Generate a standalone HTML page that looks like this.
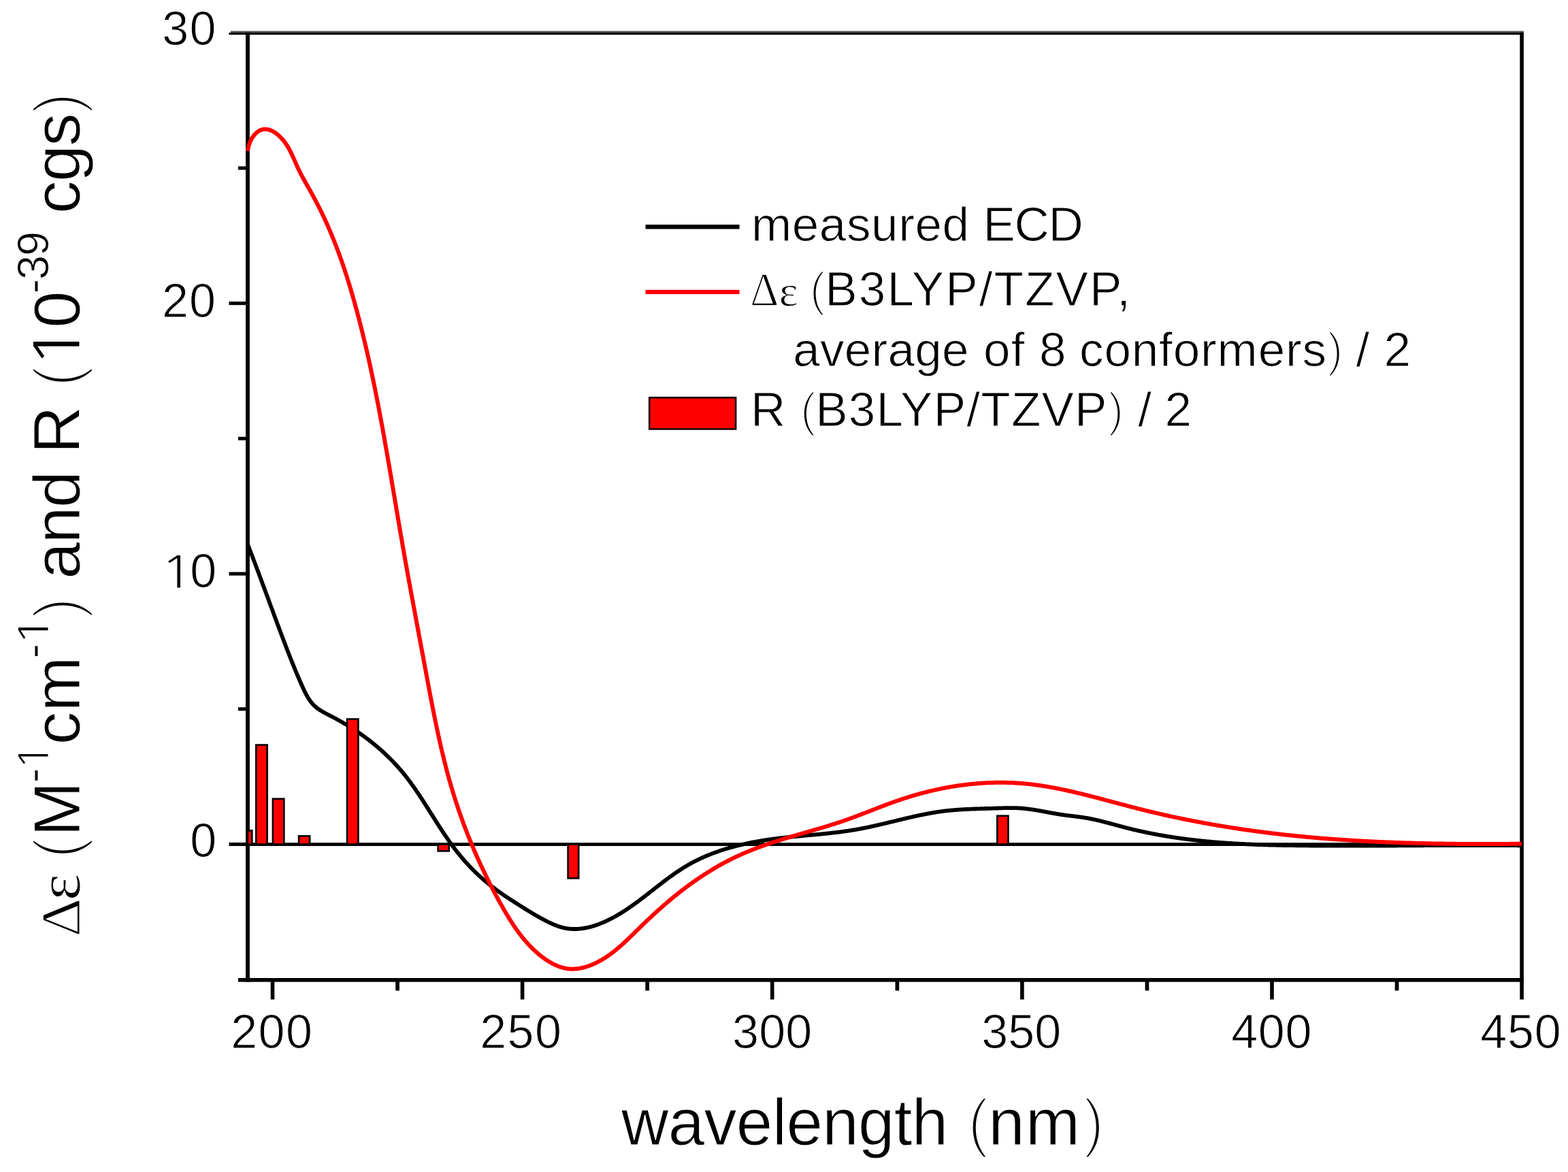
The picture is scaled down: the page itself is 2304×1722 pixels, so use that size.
<!DOCTYPE html>
<html><head><meta charset="utf-8"><title>ECD spectrum: measured vs. calculated</title>
<style>html,body{margin:0;padding:0;background:#fff;overflow:hidden}svg{display:block}</style>
</head><body>
<svg xmlns="http://www.w3.org/2000/svg" width="2304" height="1722" viewBox="0 0 2304 1722">
<rect x="0" y="0" width="2304" height="1722" fill="#fff"/>
<g fill="#000">
<rect x="339" y="45.5" width="1899.9" height="2.4" fill="#555"/>
<rect x="336.5" y="47.8" width="1902.4" height="3.2"/>
<rect x="361" y="47.8" width="5.9" height="1395"/>
<rect x="2233.3" y="47.8" width="5.6" height="1395"/>
<rect x="350" y="1437" width="1888.9" height="5.7"/>
<rect x="336.5" y="443.1" width="26" height="5.1"/>
<rect x="336.5" y="840.5" width="26" height="5.1"/>
<rect x="336.5" y="1237.9" width="26" height="5.1"/>
<rect x="350" y="244.4" width="12" height="5.1"/>
<rect x="350" y="641.8" width="12" height="5.1"/>
<rect x="350" y="1039.2" width="12" height="5.1"/>
<rect x="397.7" y="1440" width="5.6" height="28.5"/>
<rect x="764.8" y="1440" width="5.6" height="28.5"/>
<rect x="1131.9" y="1440" width="5.6" height="28.5"/>
<rect x="1499.1" y="1440" width="5.6" height="28.5"/>
<rect x="1866.2" y="1440" width="5.6" height="28.5"/>
<rect x="2233.3" y="1440" width="5.6" height="28.5"/>
<rect x="581.2" y="1440" width="5.7" height="15.5"/>
<rect x="948.3" y="1440" width="5.7" height="15.5"/>
<rect x="1315.5" y="1440" width="5.7" height="15.5"/>
<rect x="1682.6" y="1440" width="5.7" height="15.5"/>
<rect x="2049.7" y="1440" width="5.7" height="15.5"/>
</g>
<rect x="364" y="1238.2" width="1872" height="4.8" fill="#000"/>
<path d="M364.0,800.0 L364.3,800.8 364.7,801.7 365.0,802.5 365.3,803.3 365.6,804.1 365.9,805.0 366.3,805.8 366.6,806.6 366.9,807.5 367.2,808.3 367.5,809.1 367.9,810.0 368.2,810.8 368.5,811.6 368.8,812.4 369.1,813.3 369.4,814.1 369.8,814.9 370.1,815.8 370.4,816.6 370.7,817.4 371.0,818.3 371.3,819.1 371.7,819.9 372.0,820.7 372.3,821.6 372.6,822.4 372.9,823.2 373.2,824.1 373.5,824.9 373.9,825.7 374.2,826.5 374.5,827.4 374.8,828.2 375.1,829.0 375.4,829.8 375.7,830.7 376.0,831.5 376.4,832.3 376.7,833.2 377.0,834.0 377.3,834.8 377.6,835.6 377.9,836.5 378.2,837.3 378.5,838.1 378.8,838.9 379.1,839.8 379.5,840.6 379.8,841.4 380.1,842.3 380.4,843.1 380.7,843.9 381.0,844.7 381.3,845.6 381.6,846.4 381.9,847.2 382.2,848.0 382.5,848.9 382.8,849.7 383.2,850.5 383.5,851.3 383.8,852.2 384.1,853.0 384.4,853.8 384.7,854.6 385.0,855.5 385.3,856.3 385.6,857.1 385.9,858.0 386.2,858.8 386.5,859.6 386.8,860.4 387.1,861.3 387.4,862.1 387.8,862.9 388.1,863.7 388.4,864.6 388.7,865.4 389.0,866.2 389.3,867.0 389.6,867.9 389.9,868.7 390.2,869.5 390.5,870.3 390.8,871.2 391.1,872.0 391.4,872.8 391.7,873.6 392.0,874.5 392.3,875.3 392.6,876.1 392.9,876.9 393.3,877.8 393.6,878.6 393.9,879.4 394.2,880.2 394.5,881.1 394.8,881.9 395.1,882.7 395.4,883.6 395.7,884.4 396.0,885.2 396.3,886.0 396.6,886.9 396.9,887.7 397.2,888.5 397.5,889.3 397.8,890.2 398.1,891.0 398.4,891.8 398.7,892.6 399.0,893.5 399.4,894.3 399.7,895.1 400.0,895.9 400.3,896.8 400.6,897.6 400.9,898.4 401.2,899.3 401.5,900.1 401.8,900.9 402.1,901.7 402.4,902.6 402.7,903.4 403.0,904.2 403.3,905.0 403.6,905.9 403.9,906.7 404.3,907.5 404.6,908.4 404.9,909.2 405.2,910.0 405.5,910.8 405.8,911.7 406.1,912.5 406.4,913.3 406.7,914.1 407.0,915.0 407.3,915.8 407.6,916.6 407.9,917.5 408.3,918.3 408.6,919.1 408.9,919.9 409.2,920.8 409.5,921.6 409.8,922.4 410.1,923.3 410.4,924.1 410.7,924.9 411.0,925.7 411.4,926.6 411.7,927.4 412.0,928.2 412.3,929.1 412.6,929.9 412.9,930.7 413.2,931.6 413.5,932.4 413.8,933.2 414.2,934.0 414.5,934.9 414.8,935.7 415.1,936.5 415.4,937.4 415.7,938.2 416.0,939.0 416.4,939.9 416.7,940.7 417.0,941.5 417.3,942.4 417.6,943.2 417.9,944.0 418.3,944.8 418.6,945.7 418.9,946.5 419.2,947.3 419.5,948.2 419.8,949.0 420.2,949.8 420.5,950.7 420.8,951.5 421.1,952.3 421.4,953.2 421.8,954.0 422.1,954.8 422.4,955.7 422.7,956.5 423.0,957.3 423.4,958.2 423.7,959.0 424.0,959.8 424.3,960.6 424.7,961.5 425.0,962.3 425.3,963.1 425.6,964.0 426.0,964.8 426.3,965.6 426.6,966.5 426.9,967.3 427.3,968.1 427.6,969.0 427.9,969.8 428.3,970.6 428.6,971.4 428.9,972.3 429.3,973.1 429.6,973.9 429.9,974.8 430.3,975.6 430.6,976.4 430.9,977.3 431.3,978.1 431.6,978.9 431.9,979.7 432.3,980.6 432.6,981.4 433.0,982.2 433.3,983.0 433.6,983.9 434.0,984.7 434.3,985.5 434.7,986.4 435.0,987.2 435.4,988.0 435.7,988.8 436.0,989.7 436.4,990.5 436.7,991.3 437.1,992.1 437.4,992.9 437.8,993.8 438.1,994.6 438.5,995.4 438.8,996.2 439.2,997.1 439.6,997.9 439.9,998.7 440.3,999.5 440.6,1000.3 441.0,1001.2 441.3,1002.0 441.7,1002.8 442.1,1003.6 442.4,1004.4 442.8,1005.3 443.1,1006.1 443.5,1006.9 443.9,1007.7 444.2,1008.5 444.6,1009.3 445.0,1010.1 445.4,1011.0 445.7,1011.8 446.1,1012.6 446.5,1013.4 446.9,1014.2 447.2,1015.0 447.6,1015.8 448.0,1016.6 448.4,1017.4 448.8,1018.2 449.2,1018.9 449.6,1019.7 450.0,1020.5 450.4,1021.3 450.9,1022.0 451.3,1022.8 451.7,1023.5 452.2,1024.3 452.6,1025.0 453.1,1025.8 453.5,1026.5 454.0,1027.2 454.5,1027.9 454.9,1028.6 455.4,1029.3 455.9,1030.0 456.4,1030.7 456.9,1031.4 457.5,1032.0 458.0,1032.7 458.5,1033.3 459.1,1034.0 459.6,1034.6 460.2,1035.2 460.8,1035.8 461.4,1036.4 462.0,1037.0 462.6,1037.6 463.2,1038.1 463.8,1038.7 464.5,1039.2 465.1,1039.7 465.8,1040.3 466.5,1040.8 467.1,1041.3 467.8,1041.8 468.5,1042.2 469.2,1042.7 469.9,1043.2 470.7,1043.6 471.4,1044.1 472.1,1044.5 472.8,1045.0 473.6,1045.4 474.3,1045.9 475.1,1046.3 475.8,1046.7 476.6,1047.1 477.4,1047.5 478.1,1048.0 478.9,1048.4 479.7,1048.8 480.5,1049.2 481.2,1049.6 482.0,1050.0 482.8,1050.4 483.6,1050.8 484.4,1051.2 485.1,1051.6 485.9,1052.0 486.7,1052.4 487.5,1052.8 488.3,1053.2 489.1,1053.6 489.8,1054.0 490.6,1054.4 491.4,1054.9 492.2,1055.3 493.0,1055.7 493.7,1056.1 494.5,1056.5 495.3,1057.0 496.1,1057.4 496.8,1057.8 497.6,1058.2 498.4,1058.7 499.1,1059.1 499.9,1059.5 500.7,1060.0 501.4,1060.4 502.2,1060.8 503.0,1061.3 503.7,1061.7 504.5,1062.2 505.3,1062.6 506.0,1063.1 506.8,1063.5 507.5,1064.0 508.3,1064.4 509.1,1064.9 509.8,1065.3 510.6,1065.8 511.3,1066.2 512.1,1066.7 512.8,1067.2 513.6,1067.6 514.3,1068.1 515.1,1068.6 515.8,1069.0 516.5,1069.5 517.3,1070.0 518.0,1070.5 518.8,1070.9 519.5,1071.4 520.3,1071.9 521.0,1072.4 521.7,1072.9 522.5,1073.4 523.2,1073.9 523.9,1074.3 524.7,1074.8 525.4,1075.3 526.1,1075.8 526.8,1076.3 527.6,1076.8 528.3,1077.3 529.0,1077.8 529.7,1078.3 530.5,1078.8 531.2,1079.4 531.9,1079.9 532.6,1080.4 533.3,1080.9 534.0,1081.4 534.8,1081.9 535.5,1082.4 536.2,1083.0 536.9,1083.5 537.6,1084.0 538.3,1084.5 539.0,1085.1 539.7,1085.6 540.4,1086.1 541.1,1086.7 541.8,1087.2 542.5,1087.7 543.2,1088.3 543.9,1088.8 544.6,1089.4 545.3,1089.9 546.0,1090.4 546.7,1091.0 547.3,1091.5 548.0,1092.1 548.7,1092.6 549.4,1093.2 550.1,1093.8 550.8,1094.3 551.4,1094.9 552.1,1095.4 552.8,1096.0 553.5,1096.6 554.1,1097.1 554.8,1097.7 555.5,1098.3 556.1,1098.9 556.8,1099.4 557.5,1100.0 558.1,1100.6 558.8,1101.2 559.5,1101.7 560.1,1102.3 560.8,1102.9 561.4,1103.5 562.1,1104.1 562.7,1104.7 563.4,1105.3 564.0,1105.9 564.7,1106.5 565.3,1107.1 565.9,1107.7 566.6,1108.3 567.2,1108.9 567.9,1109.5 568.5,1110.1 569.1,1110.7 569.8,1111.3 570.4,1111.9 571.0,1112.5 571.6,1113.1 572.3,1113.8 572.9,1114.4 573.5,1115.0 574.1,1115.6 574.7,1116.2 575.4,1116.9 576.0,1117.5 576.6,1118.1 577.2,1118.8 577.8,1119.4 578.4,1120.0 579.0,1120.7 579.6,1121.3 580.2,1121.9 580.8,1122.6 581.4,1123.2 582.0,1123.9 582.6,1124.5 583.2,1125.2 583.8,1125.8 584.4,1126.5 585.0,1127.1 585.5,1127.8 586.1,1128.4 586.7,1129.1 587.3,1129.8 587.8,1130.4 588.4,1131.1 589.0,1131.8 589.6,1132.4 590.1,1133.1 590.7,1133.8 591.3,1134.4 591.8,1135.1 592.4,1135.8 592.9,1136.5 593.5,1137.2 594.0,1137.8 594.6,1138.5 595.1,1139.2 595.7,1139.9 596.2,1140.6 596.8,1141.3 597.3,1142.0 597.9,1142.7 598.4,1143.4 598.9,1144.1 599.5,1144.8 600.0,1145.5 600.5,1146.2 601.1,1146.9 601.6,1147.6 602.1,1148.3 602.6,1149.0 603.2,1149.7 603.7,1150.4 604.2,1151.1 604.7,1151.8 605.2,1152.6 605.7,1153.3 606.3,1154.0 606.8,1154.7 607.3,1155.4 607.8,1156.1 608.3,1156.9 608.8,1157.6 609.3,1158.3 609.8,1159.0 610.3,1159.8 610.8,1160.5 611.3,1161.2 611.8,1162.0 612.3,1162.7 612.8,1163.4 613.3,1164.2 613.8,1164.9 614.3,1165.6 614.8,1166.4 615.3,1167.1 615.8,1167.8 616.3,1168.6 616.8,1169.3 617.2,1170.0 617.7,1170.8 618.2,1171.5 618.7,1172.3 619.2,1173.0 619.7,1173.8 620.2,1174.5 620.6,1175.2 621.1,1176.0 621.6,1176.7 622.1,1177.5 622.6,1178.2 623.0,1179.0 623.5,1179.7 624.0,1180.5 624.5,1181.2 625.0,1182.0 625.4,1182.7 625.9,1183.5 626.4,1184.2 626.9,1185.0 627.3,1185.7 627.8,1186.5 628.3,1187.2 628.8,1188.0 629.2,1188.7 629.7,1189.5 630.2,1190.2 630.7,1191.0 631.1,1191.7 631.6,1192.5 632.1,1193.2 632.6,1194.0 633.0,1194.7 633.5,1195.5 634.0,1196.3 634.5,1197.0 634.9,1197.8 635.4,1198.5 635.9,1199.3 636.4,1200.0 636.8,1200.8 637.3,1201.5 637.8,1202.3 638.3,1203.0 638.7,1203.8 639.2,1204.5 639.7,1205.3 640.2,1206.0 640.6,1206.8 641.1,1207.6 641.6,1208.3 642.1,1209.1 642.6,1209.8 643.0,1210.6 643.5,1211.3 644.0,1212.1 644.5,1212.8 645.0,1213.6 645.4,1214.3 645.9,1215.0 646.4,1215.8 646.9,1216.5 647.4,1217.3 647.9,1218.0 648.4,1218.8 648.8,1219.5 649.3,1220.3 649.8,1221.0 650.3,1221.8 650.8,1222.5 651.3,1223.2 651.8,1224.0 652.3,1224.7 652.8,1225.5 653.3,1226.2 653.8,1226.9 654.3,1227.7 654.8,1228.4 655.3,1229.1 655.8,1229.9 656.3,1230.6 656.8,1231.3 657.3,1232.1 657.8,1232.8 658.3,1233.5 658.8,1234.3 659.3,1235.0 659.8,1235.7 660.3,1236.4 660.9,1237.2 661.4,1237.9 661.9,1238.6 662.4,1239.3 662.9,1240.0 663.4,1240.8 664.0,1241.5 664.5,1242.2 665.0,1242.9 665.6,1243.6 666.1,1244.3 666.6,1245.0 667.1,1245.7 667.7,1246.5 668.2,1247.2 668.8,1247.9 669.3,1248.6 669.8,1249.3 670.4,1250.0 670.9,1250.7 671.5,1251.4 672.0,1252.1 672.6,1252.8 673.1,1253.4 673.7,1254.1 674.3,1254.8 674.8,1255.5 675.4,1256.2 675.9,1256.9 676.5,1257.6 677.1,1258.3 677.6,1258.9 678.2,1259.6 678.8,1260.3 679.4,1261.0 679.9,1261.6 680.5,1262.3 681.1,1263.0 681.7,1263.6 682.2,1264.3 682.8,1265.0 683.4,1265.6 684.0,1266.3 684.6,1267.0 685.2,1267.6 685.8,1268.3 686.4,1268.9 687.0,1269.6 687.6,1270.2 688.2,1270.9 688.8,1271.5 689.4,1272.2 690.0,1272.8 690.6,1273.4 691.2,1274.1 691.8,1274.7 692.4,1275.4 693.0,1276.0 693.6,1276.6 694.3,1277.2 694.9,1277.9 695.5,1278.5 696.1,1279.1 696.8,1279.7 697.4,1280.4 698.0,1281.0 698.6,1281.6 699.3,1282.2 699.9,1282.8 700.5,1283.4 701.2,1284.0 701.8,1284.6 702.5,1285.2 703.1,1285.8 703.7,1286.4 704.4,1287.0 705.0,1287.6 705.7,1288.2 706.3,1288.8 707.0,1289.4 707.7,1290.0 708.3,1290.6 709.0,1291.1 709.6,1291.7 710.3,1292.3 711.0,1292.9 711.6,1293.4 712.3,1294.0 713.0,1294.6 713.6,1295.1 714.3,1295.7 715.0,1296.2 715.6,1296.8 716.3,1297.4 717.0,1297.9 717.7,1298.5 718.4,1299.0 719.0,1299.5 719.7,1300.1 720.4,1300.6 721.1,1301.2 721.8,1301.7 722.5,1302.2 723.2,1302.8 723.9,1303.3 724.6,1303.8 725.3,1304.4 726.0,1304.9 726.7,1305.4 727.4,1305.9 728.1,1306.5 728.8,1307.0 729.5,1307.5 730.2,1308.0 730.9,1308.5 731.6,1309.0 732.3,1309.6 733.0,1310.1 733.8,1310.6 734.5,1311.1 735.2,1311.6 735.9,1312.1 736.6,1312.6 737.3,1313.1 738.1,1313.6 738.8,1314.1 739.5,1314.6 740.2,1315.1 741.0,1315.6 741.7,1316.1 742.4,1316.6 743.1,1317.1 743.9,1317.5 744.6,1318.0 745.3,1318.5 746.1,1319.0 746.8,1319.5 747.5,1320.0 748.3,1320.5 749.0,1321.0 749.7,1321.4 750.5,1321.9 751.2,1322.4 752.0,1322.9 752.7,1323.4 753.4,1323.8 754.2,1324.3 754.9,1324.8 755.7,1325.3 756.4,1325.8 757.2,1326.2 757.9,1326.7 758.7,1327.2 759.4,1327.7 760.2,1328.1 760.9,1328.6 761.7,1329.1 762.4,1329.6 763.2,1330.0 763.9,1330.5 764.7,1331.0 765.4,1331.4 766.2,1331.9 766.9,1332.4 767.7,1332.9 768.4,1333.3 769.2,1333.8 769.9,1334.3 770.7,1334.8 771.4,1335.2 772.2,1335.7 773.0,1336.2 773.7,1336.6 774.5,1337.1 775.2,1337.6 776.0,1338.0 776.8,1338.5 777.5,1339.0 778.3,1339.4 779.1,1339.9 779.8,1340.4 780.6,1340.8 781.4,1341.3 782.1,1341.7 782.9,1342.2 783.7,1342.7 784.4,1343.1 785.2,1343.6 786.0,1344.0 786.8,1344.5 787.5,1344.9 788.3,1345.4 789.1,1345.8 789.9,1346.3 790.7,1346.7 791.4,1347.2 792.2,1347.6 793.0,1348.0 793.8,1348.5 794.6,1348.9 795.4,1349.3 796.2,1349.8 797.0,1350.2 797.7,1350.6 798.5,1351.1 799.3,1351.5 800.1,1351.9 800.9,1352.3 801.7,1352.7 802.5,1353.1 803.3,1353.6 804.1,1354.0 804.9,1354.4 805.7,1354.8 806.6,1355.2 807.4,1355.5 808.2,1355.9 809.0,1356.3 809.8,1356.7 810.6,1357.1 811.4,1357.4 812.3,1357.8 813.1,1358.1 813.9,1358.5 814.7,1358.8 815.5,1359.2 816.4,1359.5 817.2,1359.8 818.0,1360.1 818.8,1360.4 819.7,1360.7 820.5,1361.0 821.3,1361.3 822.2,1361.5 823.0,1361.8 823.8,1362.1 824.7,1362.3 825.5,1362.5 826.3,1362.8 827.2,1363.0 828.0,1363.2 828.9,1363.4 829.7,1363.6 830.6,1363.7 831.4,1363.9 832.2,1364.0 833.1,1364.2 833.9,1364.3 834.8,1364.4 835.6,1364.5 836.5,1364.6 837.3,1364.7 838.2,1364.8 839.0,1364.8 839.9,1364.9 840.7,1364.9 841.6,1365.0 842.4,1365.0 843.3,1365.0 844.2,1365.0 845.0,1365.0 845.9,1365.0 846.7,1365.0 847.6,1364.9 848.4,1364.9 849.3,1364.8 850.1,1364.8 851.0,1364.7 851.9,1364.6 852.7,1364.6 853.6,1364.5 854.4,1364.4 855.3,1364.3 856.1,1364.1 857.0,1364.0 857.8,1363.9 858.7,1363.7 859.5,1363.6 860.4,1363.4 861.2,1363.3 862.1,1363.1 863.0,1362.9 863.8,1362.7 864.7,1362.5 865.5,1362.3 866.4,1362.1 867.2,1361.9 868.0,1361.7 868.9,1361.4 869.7,1361.2 870.6,1361.0 871.4,1360.7 872.3,1360.4 873.1,1360.2 873.9,1359.9 874.8,1359.6 875.6,1359.4 876.5,1359.1 877.3,1358.8 878.1,1358.5 879.0,1358.2 879.8,1357.9 880.6,1357.6 881.4,1357.2 882.3,1356.9 883.1,1356.6 883.9,1356.3 884.7,1355.9 885.6,1355.6 886.4,1355.2 887.2,1354.9 888.0,1354.5 888.8,1354.2 889.6,1353.8 890.4,1353.4 891.2,1353.1 892.0,1352.7 892.8,1352.3 893.6,1351.9 894.4,1351.5 895.2,1351.1 896.0,1350.7 896.8,1350.3 897.6,1349.9 898.4,1349.5 899.2,1349.1 900.0,1348.7 900.8,1348.3 901.5,1347.9 902.3,1347.4 903.1,1347.0 903.9,1346.6 904.6,1346.2 905.4,1345.7 906.2,1345.3 906.9,1344.8 907.7,1344.4 908.5,1343.9 909.2,1343.5 910.0,1343.0 910.7,1342.6 911.5,1342.1 912.3,1341.7 913.0,1341.2 913.8,1340.7 914.5,1340.3 915.3,1339.8 916.0,1339.3 916.8,1338.8 917.5,1338.4 918.3,1337.9 919.0,1337.4 919.7,1336.9 920.5,1336.4 921.2,1335.9 922.0,1335.4 922.7,1334.9 923.4,1334.4 924.2,1333.9 924.9,1333.4 925.6,1332.9 926.3,1332.4 927.1,1331.9 927.8,1331.4 928.5,1330.9 929.3,1330.4 930.0,1329.9 930.7,1329.3 931.4,1328.8 932.1,1328.3 932.9,1327.8 933.6,1327.3 934.3,1326.7 935.0,1326.2 935.7,1325.7 936.5,1325.2 937.2,1324.6 937.9,1324.1 938.6,1323.6 939.3,1323.0 940.0,1322.5 940.7,1322.0 941.5,1321.4 942.2,1320.9 942.9,1320.3 943.6,1319.8 944.3,1319.3 945.0,1318.7 945.7,1318.2 946.4,1317.6 947.1,1317.1 947.8,1316.6 948.5,1316.0 949.2,1315.5 949.9,1314.9 950.7,1314.4 951.4,1313.8 952.1,1313.3 952.8,1312.7 953.5,1312.2 954.2,1311.6 954.9,1311.1 955.6,1310.5 956.3,1310.0 957.0,1309.4 957.7,1308.9 958.4,1308.3 959.1,1307.8 959.8,1307.2 960.5,1306.7 961.2,1306.1 961.9,1305.6 962.6,1305.0 963.3,1304.5 964.0,1303.9 964.7,1303.4 965.4,1302.8 966.1,1302.3 966.8,1301.8 967.5,1301.2 968.2,1300.7 968.9,1300.1 969.6,1299.6 970.4,1299.0 971.1,1298.5 971.8,1297.9 972.5,1297.4 973.2,1296.9 973.9,1296.3 974.6,1295.8 975.3,1295.2 976.0,1294.7 976.7,1294.2 977.4,1293.6 978.1,1293.1 978.8,1292.6 979.6,1292.0 980.3,1291.5 981.0,1291.0 981.7,1290.5 982.4,1289.9 983.1,1289.4 983.8,1288.9 984.5,1288.4 985.3,1287.8 986.0,1287.3 986.7,1286.8 987.4,1286.3 988.1,1285.8 988.9,1285.3 989.6,1284.8 990.3,1284.2 991.0,1283.7 991.8,1283.2 992.5,1282.7 993.2,1282.2 993.9,1281.7 994.7,1281.2 995.4,1280.7 996.1,1280.3 996.9,1279.8 997.6,1279.3 998.3,1278.8 999.1,1278.3 999.8,1277.8 1000.5,1277.3 1001.3,1276.9 1002.0,1276.4 1002.8,1275.9 1003.5,1275.5 1004.2,1275.0 1005.0,1274.5 1005.7,1274.1 1006.5,1273.6 1007.2,1273.2 1008.0,1272.7 1008.7,1272.3 1009.5,1271.8 1010.3,1271.4 1011.0,1270.9 1011.8,1270.5 1012.5,1270.1 1013.3,1269.6 1014.1,1269.2 1014.8,1268.8 1015.6,1268.4 1016.4,1267.9 1017.1,1267.5 1017.9,1267.1 1018.7,1266.7 1019.5,1266.3 1020.2,1265.9 1021.0,1265.5 1021.8,1265.1 1022.6,1264.7 1023.4,1264.3 1024.2,1263.9 1024.9,1263.5 1025.7,1263.2 1026.5,1262.8 1027.3,1262.4 1028.1,1262.0 1028.9,1261.6 1029.7,1261.3 1030.5,1260.9 1031.3,1260.5 1032.1,1260.2 1032.9,1259.8 1033.7,1259.5 1034.5,1259.1 1035.3,1258.8 1036.1,1258.4 1036.9,1258.1 1037.7,1257.7 1038.5,1257.4 1039.3,1257.0 1040.1,1256.7 1040.9,1256.4 1041.7,1256.0 1042.6,1255.7 1043.4,1255.4 1044.2,1255.1 1045.0,1254.7 1045.8,1254.4 1046.6,1254.1 1047.5,1253.8 1048.3,1253.5 1049.1,1253.2 1049.9,1252.9 1050.8,1252.6 1051.6,1252.3 1052.4,1252.0 1053.2,1251.7 1054.1,1251.4 1054.9,1251.1 1055.7,1250.8 1056.6,1250.5 1057.4,1250.2 1058.2,1249.9 1059.1,1249.7 1059.9,1249.4 1060.7,1249.1 1061.6,1248.8 1062.4,1248.6 1063.3,1248.3 1064.1,1248.0 1064.9,1247.8 1065.8,1247.5 1066.6,1247.3 1067.5,1247.0 1068.3,1246.7 1069.2,1246.5 1070.0,1246.2 1070.8,1246.0 1071.7,1245.7 1072.5,1245.5 1073.4,1245.3 1074.2,1245.0 1075.1,1244.8 1075.9,1244.5 1076.8,1244.3 1077.7,1244.1 1078.5,1243.9 1079.4,1243.6 1080.2,1243.4 1081.1,1243.2 1081.9,1243.0 1082.8,1242.7 1083.7,1242.5 1084.5,1242.3 1085.4,1242.1 1086.2,1241.9 1087.1,1241.7 1088.0,1241.5 1088.8,1241.3 1089.7,1241.1 1090.5,1240.9 1091.4,1240.7 1092.3,1240.5 1093.1,1240.3 1094.0,1240.1 1094.9,1239.9 1095.7,1239.7 1096.6,1239.5 1097.5,1239.3 1098.3,1239.1 1099.2,1238.9 1100.1,1238.8 1100.9,1238.6 1101.8,1238.4 1102.7,1238.2 1103.6,1238.1 1104.4,1237.9 1105.3,1237.7 1106.2,1237.5 1107.0,1237.4 1107.9,1237.2 1108.8,1237.1 1109.7,1236.9 1110.5,1236.7 1111.4,1236.6 1112.3,1236.4 1113.2,1236.3 1114.0,1236.1 1114.9,1236.0 1115.8,1235.8 1116.7,1235.7 1117.5,1235.5 1118.4,1235.4 1119.3,1235.2 1120.2,1235.1 1121.0,1234.9 1121.9,1234.8 1122.8,1234.6 1123.7,1234.5 1124.6,1234.4 1125.4,1234.2 1126.3,1234.1 1127.2,1234.0 1128.1,1233.8 1128.9,1233.7 1129.8,1233.6 1130.7,1233.5 1131.6,1233.3 1132.5,1233.2 1133.3,1233.1 1134.2,1233.0 1135.1,1232.9 1136.0,1232.7 1136.8,1232.6 1137.7,1232.5 1138.6,1232.4 1139.5,1232.3 1140.4,1232.2 1141.2,1232.1 1142.1,1231.9 1143.0,1231.8 1143.9,1231.7 1144.8,1231.6 1145.6,1231.5 1146.5,1231.4 1147.4,1231.3 1148.3,1231.2 1149.2,1231.1 1150.0,1231.0 1150.9,1230.9 1151.8,1230.8 1152.7,1230.7 1153.6,1230.6 1154.4,1230.5 1155.3,1230.4 1156.2,1230.3 1157.1,1230.2 1158.0,1230.1 1158.8,1230.0 1159.7,1230.0 1160.6,1229.9 1161.5,1229.8 1162.4,1229.7 1163.2,1229.6 1164.1,1229.5 1165.0,1229.4 1165.9,1229.3 1166.8,1229.2 1167.7,1229.2 1168.5,1229.1 1169.4,1229.0 1170.3,1228.9 1171.2,1228.8 1172.1,1228.7 1172.9,1228.6 1173.8,1228.6 1174.7,1228.5 1175.6,1228.4 1176.5,1228.3 1177.3,1228.2 1178.2,1228.1 1179.1,1228.1 1180.0,1228.0 1180.9,1227.9 1181.7,1227.8 1182.6,1227.7 1183.5,1227.7 1184.4,1227.6 1185.3,1227.5 1186.1,1227.4 1187.0,1227.3 1187.9,1227.2 1188.8,1227.2 1189.7,1227.1 1190.5,1227.0 1191.4,1226.9 1192.3,1226.8 1193.2,1226.8 1194.1,1226.7 1194.9,1226.6 1195.8,1226.5 1196.7,1226.4 1197.6,1226.3 1198.5,1226.3 1199.3,1226.2 1200.2,1226.1 1201.1,1226.0 1202.0,1225.9 1202.8,1225.8 1203.7,1225.8 1204.6,1225.7 1205.5,1225.6 1206.4,1225.5 1207.2,1225.4 1208.1,1225.3 1209.0,1225.2 1209.9,1225.1 1210.8,1225.1 1211.6,1225.0 1212.5,1224.9 1213.4,1224.8 1214.3,1224.7 1215.1,1224.6 1216.0,1224.5 1216.9,1224.4 1217.8,1224.3 1218.7,1224.2 1219.5,1224.1 1220.4,1224.0 1221.3,1223.9 1222.2,1223.8 1223.0,1223.7 1223.9,1223.6 1224.8,1223.5 1225.7,1223.4 1226.5,1223.3 1227.4,1223.2 1228.3,1223.1 1229.2,1223.0 1230.0,1222.9 1230.9,1222.8 1231.8,1222.7 1232.7,1222.6 1233.5,1222.5 1234.4,1222.4 1235.3,1222.3 1236.2,1222.1 1237.0,1222.0 1237.9,1221.9 1238.8,1221.8 1239.7,1221.7 1240.5,1221.5 1241.4,1221.4 1242.3,1221.3 1243.2,1221.2 1244.0,1221.0 1244.9,1220.9 1245.8,1220.8 1246.6,1220.7 1247.5,1220.5 1248.4,1220.4 1249.3,1220.3 1250.1,1220.1 1251.0,1220.0 1251.9,1219.8 1252.7,1219.7 1253.6,1219.6 1254.5,1219.4 1255.4,1219.3 1256.2,1219.1 1257.1,1219.0 1258.0,1218.8 1258.8,1218.7 1259.7,1218.5 1260.6,1218.4 1261.4,1218.2 1262.3,1218.0 1263.2,1217.9 1264.1,1217.7 1264.9,1217.6 1265.8,1217.4 1266.7,1217.2 1267.5,1217.1 1268.4,1216.9 1269.3,1216.7 1270.1,1216.5 1271.0,1216.4 1271.9,1216.2 1272.7,1216.0 1273.6,1215.8 1274.5,1215.7 1275.3,1215.5 1276.2,1215.3 1277.1,1215.1 1277.9,1214.9 1278.8,1214.7 1279.6,1214.6 1280.5,1214.4 1281.4,1214.2 1282.2,1214.0 1283.1,1213.8 1284.0,1213.6 1284.8,1213.4 1285.7,1213.2 1286.6,1213.0 1287.4,1212.8 1288.3,1212.6 1289.2,1212.4 1290.0,1212.2 1290.9,1212.0 1291.7,1211.8 1292.6,1211.6 1293.5,1211.4 1294.3,1211.2 1295.2,1211.0 1296.1,1210.8 1296.9,1210.6 1297.8,1210.4 1298.7,1210.2 1299.5,1210.0 1300.4,1209.8 1301.2,1209.6 1302.1,1209.4 1303.0,1209.2 1303.8,1209.0 1304.7,1208.8 1305.6,1208.5 1306.4,1208.3 1307.3,1208.1 1308.1,1207.9 1309.0,1207.7 1309.9,1207.5 1310.7,1207.3 1311.6,1207.1 1312.5,1206.9 1313.3,1206.7 1314.2,1206.5 1315.0,1206.3 1315.9,1206.0 1316.8,1205.8 1317.6,1205.6 1318.5,1205.4 1319.4,1205.2 1320.2,1205.0 1321.1,1204.8 1321.9,1204.6 1322.8,1204.4 1323.7,1204.2 1324.5,1204.0 1325.4,1203.8 1326.3,1203.5 1327.1,1203.3 1328.0,1203.1 1328.8,1202.9 1329.7,1202.7 1330.6,1202.5 1331.4,1202.3 1332.3,1202.1 1333.2,1201.9 1334.0,1201.7 1334.9,1201.5 1335.8,1201.3 1336.6,1201.1 1337.5,1200.9 1338.3,1200.7 1339.2,1200.5 1340.1,1200.3 1340.9,1200.1 1341.8,1199.9 1342.7,1199.7 1343.5,1199.5 1344.4,1199.4 1345.3,1199.2 1346.1,1199.0 1347.0,1198.8 1347.9,1198.6 1348.7,1198.4 1349.6,1198.2 1350.5,1198.0 1351.3,1197.9 1352.2,1197.7 1353.0,1197.5 1353.9,1197.3 1354.8,1197.1 1355.6,1197.0 1356.5,1196.8 1357.4,1196.6 1358.2,1196.4 1359.1,1196.3 1360.0,1196.1 1360.9,1195.9 1361.7,1195.8 1362.6,1195.6 1363.5,1195.4 1364.3,1195.3 1365.2,1195.1 1366.1,1195.0 1366.9,1194.8 1367.8,1194.6 1368.7,1194.5 1369.5,1194.3 1370.4,1194.2 1371.3,1194.0 1372.2,1193.9 1373.0,1193.8 1373.9,1193.6 1374.8,1193.5 1375.6,1193.3 1376.5,1193.2 1377.4,1193.1 1378.3,1192.9 1379.1,1192.8 1380.0,1192.7 1380.9,1192.6 1381.7,1192.4 1382.6,1192.3 1383.5,1192.2 1384.4,1192.1 1385.2,1192.0 1386.1,1191.8 1387.0,1191.7 1387.9,1191.6 1388.7,1191.5 1389.6,1191.4 1390.5,1191.3 1391.4,1191.2 1392.2,1191.1 1393.1,1191.0 1394.0,1190.9 1394.9,1190.8 1395.8,1190.8 1396.6,1190.7 1397.5,1190.6 1398.4,1190.5 1399.3,1190.4 1400.1,1190.4 1401.0,1190.3 1401.9,1190.2 1402.8,1190.1 1403.7,1190.1 1404.5,1190.0 1405.4,1189.9 1406.3,1189.9 1407.2,1189.8 1408.1,1189.7 1408.9,1189.7 1409.8,1189.6 1410.7,1189.5 1411.6,1189.5 1412.5,1189.4 1413.4,1189.4 1414.2,1189.3 1415.1,1189.3 1416.0,1189.2 1416.9,1189.2 1417.8,1189.1 1418.7,1189.1 1419.5,1189.0 1420.4,1189.0 1421.3,1189.0 1422.2,1188.9 1423.1,1188.9 1424.0,1188.8 1424.8,1188.8 1425.7,1188.8 1426.6,1188.7 1427.5,1188.7 1428.4,1188.6 1429.3,1188.6 1430.1,1188.6 1431.0,1188.5 1431.9,1188.5 1432.8,1188.5 1433.7,1188.5 1434.6,1188.4 1435.4,1188.4 1436.3,1188.4 1437.2,1188.3 1438.1,1188.3 1439.0,1188.3 1439.9,1188.3 1440.8,1188.2 1441.6,1188.2 1442.5,1188.2 1443.4,1188.1 1444.3,1188.1 1445.2,1188.1 1446.1,1188.1 1447.0,1188.0 1447.8,1188.0 1448.7,1188.0 1449.6,1188.0 1450.5,1187.9 1451.4,1187.9 1452.3,1187.9 1453.2,1187.9 1454.0,1187.8 1454.9,1187.8 1455.8,1187.8 1456.7,1187.8 1457.6,1187.7 1458.5,1187.7 1459.3,1187.7 1460.2,1187.7 1461.1,1187.6 1462.0,1187.6 1462.9,1187.6 1463.8,1187.5 1464.7,1187.5 1465.5,1187.5 1466.4,1187.5 1467.3,1187.4 1468.2,1187.4 1469.1,1187.4 1470.0,1187.3 1470.8,1187.3 1471.7,1187.3 1472.6,1187.3 1473.5,1187.2 1474.4,1187.2 1475.3,1187.2 1476.1,1187.2 1477.0,1187.2 1477.9,1187.1 1478.8,1187.1 1479.7,1187.1 1480.6,1187.1 1481.4,1187.1 1482.3,1187.1 1483.2,1187.1 1484.1,1187.1 1485.0,1187.1 1485.8,1187.1 1486.7,1187.1 1487.6,1187.1 1488.5,1187.1 1489.4,1187.1 1490.2,1187.1 1491.1,1187.1 1492.0,1187.1 1492.9,1187.2 1493.7,1187.2 1494.6,1187.2 1495.5,1187.3 1496.4,1187.3 1497.3,1187.4 1498.1,1187.4 1499.0,1187.5 1499.9,1187.5 1500.8,1187.6 1501.6,1187.7 1502.5,1187.7 1503.4,1187.8 1504.3,1187.9 1505.1,1188.0 1506.0,1188.1 1506.9,1188.2 1507.7,1188.3 1508.6,1188.4 1509.5,1188.5 1510.4,1188.6 1511.2,1188.7 1512.1,1188.8 1513.0,1188.9 1513.8,1189.0 1514.7,1189.2 1515.6,1189.3 1516.4,1189.4 1517.3,1189.5 1518.2,1189.7 1519.1,1189.8 1519.9,1190.0 1520.8,1190.1 1521.7,1190.2 1522.5,1190.4 1523.4,1190.5 1524.3,1190.7 1525.1,1190.8 1526.0,1191.0 1526.9,1191.1 1527.7,1191.3 1528.6,1191.4 1529.5,1191.6 1530.4,1191.7 1531.2,1191.9 1532.1,1192.1 1533.0,1192.2 1533.8,1192.4 1534.7,1192.5 1535.6,1192.7 1536.4,1192.9 1537.3,1193.0 1538.2,1193.2 1539.0,1193.3 1539.9,1193.5 1540.8,1193.7 1541.7,1193.8 1542.5,1194.0 1543.4,1194.1 1544.3,1194.3 1545.1,1194.5 1546.0,1194.6 1546.9,1194.8 1547.8,1194.9 1548.6,1195.1 1549.5,1195.2 1550.4,1195.4 1551.2,1195.5 1552.1,1195.7 1553.0,1195.8 1553.9,1196.0 1554.7,1196.1 1555.6,1196.3 1556.5,1196.4 1557.3,1196.6 1558.2,1196.7 1559.1,1196.8 1560.0,1197.0 1560.8,1197.1 1561.7,1197.2 1562.6,1197.4 1563.5,1197.5 1564.3,1197.6 1565.2,1197.7 1566.1,1197.8 1567.0,1198.0 1567.8,1198.1 1568.7,1198.2 1569.6,1198.3 1570.5,1198.4 1571.3,1198.5 1572.2,1198.6 1573.1,1198.7 1574.0,1198.8 1574.9,1198.9 1575.7,1199.0 1576.6,1199.1 1577.5,1199.2 1578.4,1199.3 1579.2,1199.5 1580.1,1199.6 1581.0,1199.7 1581.9,1199.8 1582.7,1199.9 1583.6,1200.0 1584.5,1200.1 1585.4,1200.2 1586.2,1200.3 1587.1,1200.4 1588.0,1200.6 1588.9,1200.7 1589.7,1200.8 1590.6,1200.9 1591.5,1201.1 1592.4,1201.2 1593.2,1201.3 1594.1,1201.5 1595.0,1201.6 1595.8,1201.8 1596.7,1201.9 1597.6,1202.1 1598.4,1202.2 1599.3,1202.4 1600.2,1202.6 1601.0,1202.7 1601.9,1202.9 1602.8,1203.1 1603.6,1203.2 1604.5,1203.4 1605.4,1203.6 1606.2,1203.8 1607.1,1204.0 1608.0,1204.1 1608.8,1204.3 1609.7,1204.5 1610.6,1204.7 1611.4,1204.9 1612.3,1205.1 1613.1,1205.3 1614.0,1205.5 1614.9,1205.7 1615.7,1205.9 1616.6,1206.1 1617.4,1206.3 1618.3,1206.6 1619.2,1206.8 1620.0,1207.0 1620.9,1207.2 1621.7,1207.4 1622.6,1207.6 1623.5,1207.9 1624.3,1208.1 1625.2,1208.3 1626.0,1208.5 1626.9,1208.8 1627.8,1209.0 1628.6,1209.2 1629.5,1209.4 1630.3,1209.7 1631.2,1209.9 1632.0,1210.1 1632.9,1210.3 1633.8,1210.6 1634.6,1210.8 1635.5,1211.0 1636.3,1211.3 1637.2,1211.5 1638.0,1211.7 1638.9,1212.0 1639.8,1212.2 1640.6,1212.4 1641.5,1212.7 1642.3,1212.9 1643.2,1213.1 1644.0,1213.4 1644.9,1213.6 1645.8,1213.8 1646.6,1214.0 1647.5,1214.3 1648.3,1214.5 1649.2,1214.7 1650.1,1215.0 1650.9,1215.2 1651.8,1215.4 1652.6,1215.6 1653.5,1215.9 1654.3,1216.1 1655.2,1216.3 1656.1,1216.5 1656.9,1216.7 1657.8,1217.0 1658.6,1217.2 1659.5,1217.4 1660.4,1217.6 1661.2,1217.8 1662.1,1218.0 1662.9,1218.2 1663.8,1218.4 1664.7,1218.7 1665.5,1218.9 1666.4,1219.1 1667.2,1219.3 1668.1,1219.5 1669.0,1219.7 1669.8,1219.9 1670.7,1220.1 1671.6,1220.3 1672.4,1220.5 1673.3,1220.7 1674.1,1220.9 1675.0,1221.1 1675.9,1221.2 1676.7,1221.4 1677.6,1221.6 1678.5,1221.8 1679.3,1222.0 1680.2,1222.2 1681.1,1222.4 1681.9,1222.6 1682.8,1222.7 1683.6,1222.9 1684.5,1223.1 1685.4,1223.3 1686.2,1223.5 1687.1,1223.6 1688.0,1223.8 1688.8,1224.0 1689.7,1224.2 1690.6,1224.3 1691.4,1224.5 1692.3,1224.7 1693.2,1224.9 1694.0,1225.0 1694.9,1225.2 1695.8,1225.4 1696.6,1225.5 1697.5,1225.7 1698.4,1225.9 1699.2,1226.0 1700.1,1226.2 1701.0,1226.3 1701.8,1226.5 1702.7,1226.7 1703.6,1226.8 1704.5,1227.0 1705.3,1227.1 1706.2,1227.3 1707.1,1227.4 1707.9,1227.6 1708.8,1227.7 1709.7,1227.9 1710.5,1228.0 1711.4,1228.2 1712.3,1228.3 1713.1,1228.5 1714.0,1228.6 1714.9,1228.8 1715.8,1228.9 1716.6,1229.0 1717.5,1229.2 1718.4,1229.3 1719.2,1229.5 1720.1,1229.6 1721.0,1229.7 1721.9,1229.9 1722.7,1230.0 1723.6,1230.1 1724.5,1230.3 1725.3,1230.4 1726.2,1230.5 1727.1,1230.7 1728.0,1230.8 1728.8,1230.9 1729.7,1231.0 1730.6,1231.2 1731.5,1231.3 1732.3,1231.4 1733.2,1231.5 1734.1,1231.7 1735.0,1231.8 1735.8,1231.9 1736.7,1232.0 1737.6,1232.1 1738.4,1232.3 1739.3,1232.4 1740.2,1232.5 1741.1,1232.6 1741.9,1232.7 1742.8,1232.8 1743.7,1232.9 1744.6,1233.1 1745.4,1233.2 1746.3,1233.3 1747.2,1233.4 1748.1,1233.5 1748.9,1233.6 1749.8,1233.7 1750.7,1233.8 1751.6,1233.9 1752.4,1234.0 1753.3,1234.1 1754.2,1234.2 1755.1,1234.3 1756.0,1234.4 1756.8,1234.5 1757.7,1234.6 1758.6,1234.7 1759.5,1234.8 1760.3,1234.9 1761.2,1235.0 1762.1,1235.1 1763.0,1235.2 1763.8,1235.3 1764.7,1235.4 1765.6,1235.5 1766.5,1235.6 1767.4,1235.6 1768.2,1235.7 1769.1,1235.8 1770.0,1235.9 1770.9,1236.0 1771.8,1236.1 1772.6,1236.2 1773.5,1236.3 1774.4,1236.3 1775.3,1236.4 1776.1,1236.5 1777.0,1236.6 1777.9,1236.7 1778.8,1236.7 1779.7,1236.8 1780.5,1236.9 1781.4,1237.0 1782.3,1237.1 1783.2,1237.1 1784.1,1237.2 1784.9,1237.3 1785.8,1237.4 1786.7,1237.4 1787.6,1237.5 1788.5,1237.6 1789.3,1237.6 1790.2,1237.7 1791.1,1237.8 1792.0,1237.8 1792.9,1237.9 1793.7,1238.0 1794.6,1238.1 1795.5,1238.1 1796.4,1238.2 1797.3,1238.2 1798.1,1238.3 1799.0,1238.4 1799.9,1238.4 1800.8,1238.5 1801.7,1238.6 1802.6,1238.6 1803.4,1238.7 1804.3,1238.7 1805.2,1238.8 1806.1,1238.9 1807.0,1238.9 1807.8,1239.0 1808.7,1239.0 1809.6,1239.1 1810.5,1239.1 1811.4,1239.2 1812.3,1239.3 1813.1,1239.3 1814.0,1239.4 1814.9,1239.4 1815.8,1239.5 1816.7,1239.5 1817.6,1239.6 1818.4,1239.6 1819.3,1239.7 1820.2,1239.7 1821.1,1239.8 1822.0,1239.8 1822.9,1239.9 1823.7,1239.9 1824.6,1239.9 1825.5,1240.0 1826.4,1240.0 1827.3,1240.1 1828.2,1240.1 1829.0,1240.2 1829.9,1240.2 1830.8,1240.3 1831.7,1240.3 1832.6,1240.3 1833.5,1240.4 1834.3,1240.4 1835.2,1240.5 1836.1,1240.5 1837.0,1240.5 1837.9,1240.6 1838.8,1240.6 1839.6,1240.6 1840.5,1240.7 1841.4,1240.7 1842.3,1240.8 1843.2,1240.8 1844.1,1240.8 1844.9,1240.9 1845.8,1240.9 1846.7,1240.9 1847.6,1241.0 1848.5,1241.0 1849.4,1241.0 1850.3,1241.1 1851.1,1241.1 1852.0,1241.1 1852.9,1241.1 1853.8,1241.2 1854.7,1241.2 1855.6,1241.2 1856.4,1241.3 1857.3,1241.3 1858.2,1241.3 1859.1,1241.3 1860.0,1241.4 1860.9,1241.4 1861.8,1241.4 1862.6,1241.4 1863.5,1241.5 1864.4,1241.5 1865.3,1241.5 1866.2,1241.5 1867.1,1241.6 1868.0,1241.6 1868.8,1241.6 1869.7,1241.6 1870.6,1241.7 1871.5,1241.7 1872.4,1241.7 1873.3,1241.7 1874.2,1241.7 1875.0,1241.8 1875.9,1241.8 1876.8,1241.8 1877.7,1241.8 1878.6,1241.8 1879.5,1241.9 1880.4,1241.9 1881.2,1241.9 1882.1,1241.9 1883.0,1241.9 1883.9,1242.0 1884.8,1242.0 1885.7,1242.0 1886.6,1242.0 1887.4,1242.0 1888.3,1242.0 1889.2,1242.0 1890.1,1242.1 1891.0,1242.1 1891.9,1242.1 1892.8,1242.1 1893.6,1242.1 1894.5,1242.1 1895.4,1242.1 1896.3,1242.2 1897.2,1242.2 1898.1,1242.2 1899.0,1242.2 1899.8,1242.2 1900.7,1242.2 1901.6,1242.2 1902.5,1242.2 1903.4,1242.3 1904.3,1242.3 1905.2,1242.3 1906.0,1242.3 1906.9,1242.3 1907.8,1242.3 1908.7,1242.3 1909.6,1242.3 1910.5,1242.3 1911.4,1242.3 1912.2,1242.4 1913.1,1242.4 1914.0,1242.4 1914.9,1242.4 1915.8,1242.4 1916.7,1242.4 1917.6,1242.4 1918.4,1242.4 1919.3,1242.4 1920.2,1242.4 1921.1,1242.4 1922.0,1242.4 1922.9,1242.4 1923.8,1242.5 1924.6,1242.5 1925.5,1242.5 1926.4,1242.5 1927.3,1242.5 1928.2,1242.5 1929.1,1242.5 1930.0,1242.5 1930.8,1242.5 1931.7,1242.5 1932.6,1242.5 1933.5,1242.5 1934.4,1242.5 1935.3,1242.5 1936.2,1242.5 1937.0,1242.5 1937.9,1242.5 1938.8,1242.6 1939.7,1242.6 1940.6,1242.6 1941.5,1242.6 1942.4,1242.6 1943.2,1242.6 1944.1,1242.6 1945.0,1242.6 1945.9,1242.6 1946.8,1242.6 1947.7,1242.6 1948.6,1242.6 1949.4,1242.6 1950.3,1242.6 1951.2,1242.6 1952.1,1242.6 1953.0,1242.6 1953.9,1242.6 1954.7,1242.6 1955.6,1242.6 1956.5,1242.6 1957.4,1242.6 1958.3,1242.6 1959.2,1242.6 1960.1,1242.6 1960.9,1242.6 1961.8,1242.6 1962.7,1242.6 1963.6,1242.6 1964.5,1242.6 1965.4,1242.6 1966.2,1242.6 1967.1,1242.6 1968.0,1242.6 1968.9,1242.6 1969.8,1242.6 1970.7,1242.6 1971.6,1242.6 1972.4,1242.6 1973.3,1242.6 1974.2,1242.6 1975.1,1242.7 1976.0,1242.7 1976.9,1242.7 1977.8,1242.7 1978.6,1242.7 1979.5,1242.7 1980.4,1242.7 1981.3,1242.7 1982.2,1242.7 1983.1,1242.7 1983.9,1242.7 1984.8,1242.7 1985.7,1242.6 1986.6,1242.6 1987.5,1242.6 1988.4,1242.6 1989.3,1242.6 1990.1,1242.6 1991.0,1242.6 1991.9,1242.6 1992.8,1242.6 1993.7,1242.6 1994.6,1242.6 1995.4,1242.6 1996.3,1242.6 1997.2,1242.6 1998.1,1242.6 1999.0,1242.6 1999.9,1242.6 2000.7,1242.6 2001.6,1242.6 2002.5,1242.6 2003.4,1242.6 2004.3,1242.6 2005.2,1242.6 2006.1,1242.6 2006.9,1242.6 2007.8,1242.6 2008.7,1242.6 2009.6,1242.6 2010.5,1242.6 2011.4,1242.6 2012.2,1242.6 2013.1,1242.6 2014.0,1242.6 2014.9,1242.6 2015.8,1242.6 2016.7,1242.6 2017.5,1242.6 2018.4,1242.6 2019.3,1242.6 2020.2,1242.6 2021.1,1242.6 2022.0,1242.6 2022.9,1242.6 2023.7,1242.6 2024.6,1242.6 2025.5,1242.6 2026.4,1242.6 2027.3,1242.6 2028.2,1242.5 2029.0,1242.5 2029.9,1242.5 2030.8,1242.5 2031.7,1242.5 2032.6,1242.5 2033.5,1242.5 2034.3,1242.5 2035.2,1242.5 2036.1,1242.5 2037.0,1242.5 2037.9,1242.5 2038.8,1242.5 2039.6,1242.5 2040.5,1242.5 2041.4,1242.5 2042.3,1242.5 2043.2,1242.5 2044.1,1242.5 2045.0,1242.5 2045.8,1242.5 2046.7,1242.5 2047.6,1242.5 2048.5,1242.5 2049.4,1242.5 2050.3,1242.5 2051.1,1242.5 2052.0,1242.4 2052.9,1242.4 2053.8,1242.4 2054.7,1242.4 2055.6,1242.4 2056.4,1242.4 2057.3,1242.4 2058.2,1242.4 2059.1,1242.4 2060.0,1242.4 2060.9,1242.4 2061.7,1242.4 2062.6,1242.4 2063.5,1242.4 2064.4,1242.4 2065.3,1242.4 2066.2,1242.4 2067.1,1242.4 2067.9,1242.4 2068.8,1242.4 2069.7,1242.4 2070.6,1242.4 2071.5,1242.4 2072.4,1242.3 2073.2,1242.3 2074.1,1242.3 2075.0,1242.3 2075.9,1242.3 2076.8,1242.3 2077.7,1242.3 2078.5,1242.3 2079.4,1242.3 2080.3,1242.3 2081.2,1242.3 2082.1,1242.3 2083.0,1242.3 2083.8,1242.3 2084.7,1242.3 2085.6,1242.3 2086.5,1242.3 2087.4,1242.3 2088.3,1242.3 2089.1,1242.3 2090.0,1242.3 2090.9,1242.3 2091.8,1242.3 2092.7,1242.2 2093.6,1242.2 2094.5,1242.2 2095.3,1242.2 2096.2,1242.2 2097.1,1242.2 2098.0,1242.2 2098.9,1242.2 2099.8,1242.2 2100.6,1242.2 2101.5,1242.2 2102.4,1242.2 2103.3,1242.2 2104.2,1242.2 2105.1,1242.2 2105.9,1242.2 2106.8,1242.2 2107.7,1242.2 2108.6,1242.2 2109.5,1242.2 2110.4,1242.2 2111.2,1242.2 2112.1,1242.2 2113.0,1242.2 2113.9,1242.2 2114.8,1242.2 2115.7,1242.1 2116.6,1242.1 2117.4,1242.1 2118.3,1242.1 2119.2,1242.1 2120.1,1242.1 2121.0,1242.1 2121.9,1242.1 2122.7,1242.1 2123.6,1242.1 2124.5,1242.1 2125.4,1242.1 2126.3,1242.1 2127.2,1242.1 2128.0,1242.1 2128.9,1242.1 2129.8,1242.1 2130.7,1242.1 2131.6,1242.1 2132.5,1242.1 2133.3,1242.1 2134.2,1242.1 2135.1,1242.1 2136.0,1242.1 2136.9,1242.1 2137.8,1242.1 2138.7,1242.1 2139.5,1242.1 2140.4,1242.1 2141.3,1242.1 2142.2,1242.1 2143.1,1242.1 2144.0,1242.1 2144.8,1242.1 2145.7,1242.1 2146.6,1242.0 2147.5,1242.0 2148.4,1242.0 2149.3,1242.0 2150.2,1242.0 2151.0,1242.0 2151.9,1242.0 2152.8,1242.0 2153.7,1242.0 2154.6,1242.0 2155.5,1242.0 2156.3,1242.0 2157.2,1242.0 2158.1,1242.0 2159.0,1242.0 2159.9,1242.0 2160.8,1242.0 2161.6,1242.0 2162.5,1242.0 2163.4,1242.0 2164.3,1242.0 2165.2,1242.0 2166.1,1242.0 2167.0,1242.0 2167.8,1242.0 2168.7,1242.0 2169.6,1242.0 2170.5,1242.0 2171.4,1242.0 2172.3,1242.0 2173.1,1242.0 2174.0,1242.0 2174.9,1242.0 2175.8,1242.0 2176.7,1242.0 2177.6,1242.0 2178.5,1242.0 2179.3,1242.0 2180.2,1242.0 2181.1,1242.0 2182.0,1242.0 2182.9,1242.0 2183.8,1242.0 2184.6,1242.0 2185.5,1242.0 2186.4,1242.0 2187.3,1242.0 2188.2,1242.0 2189.1,1242.0 2190.0,1242.0 2190.8,1242.0 2191.7,1242.1 2192.6,1242.1 2193.5,1242.1 2194.4,1242.1 2195.3,1242.1 2196.2,1242.1 2197.0,1242.1 2197.9,1242.1 2198.8,1242.1 2199.7,1242.1 2200.6,1242.1 2201.5,1242.1 2202.3,1242.1 2203.2,1242.1 2204.1,1242.1 2205.0,1242.1 2205.9,1242.1 2206.8,1242.1 2207.7,1242.1 2208.5,1242.1 2209.4,1242.1 2210.3,1242.1 2211.2,1242.1 2212.1,1242.1 2213.0,1242.1 2213.9,1242.1 2214.7,1242.1 2215.6,1242.2 2216.5,1242.2 2217.4,1242.2 2218.3,1242.2 2219.2,1242.2 2220.1,1242.2 2220.9,1242.2 2221.8,1242.2 2222.7,1242.2 2223.6,1242.2 2224.5,1242.2 2225.4,1242.2 2226.3,1242.2 2227.1,1242.2 2228.0,1242.2 2228.9,1242.2 2229.8,1242.3 2230.7,1242.3 2231.6,1242.3 2232.5,1242.3 2233.3,1242.3 2234.2,1242.3 2235.1,1242.3 2236.0,1242.3" fill="none" stroke="#000" stroke-width="5.8" stroke-linejoin="round"/>
<path d="M364.0,222.0 L364.2,220.6 364.4,219.3 364.6,217.9 364.9,216.6 365.2,215.3 365.6,214.0 365.9,212.7 366.3,211.5 366.8,210.3 367.2,209.1 367.7,207.9 368.2,206.8 368.8,205.7 369.4,204.6 369.9,203.5 370.6,202.5 371.2,201.5 371.9,200.6 372.5,199.6 373.3,198.7 374.0,197.9 374.7,197.1 375.5,196.3 376.2,195.6 377.0,194.9 377.8,194.2 378.7,193.6 379.5,193.0 380.3,192.5 381.2,192.0 382.0,191.6 382.9,191.2 383.8,190.8 384.7,190.5 385.6,190.3 386.5,190.1 387.4,190.0 388.3,189.9 389.2,189.8 390.1,189.8 391.0,189.9 392.0,189.9 392.9,190.1 393.8,190.3 394.7,190.5 395.6,190.7 396.6,191.0 397.5,191.4 398.4,191.7 399.3,192.2 400.2,192.6 401.2,193.1 402.1,193.6 403.0,194.1 403.9,194.7 404.8,195.3 405.6,195.9 406.5,196.6 407.4,197.3 408.3,198.0 409.1,198.7 410.0,199.5 410.8,200.3 411.6,201.1 412.4,201.9 413.2,202.7 414.0,203.6 414.8,204.5 415.6,205.4 416.3,206.3 417.1,207.2 417.8,208.1 418.5,209.0 419.2,210.0 419.9,211.0 420.5,211.9 421.2,212.9 421.8,213.9 422.4,214.9 423.0,215.9 423.6,216.9 424.2,217.9 424.8,219.0 425.3,220.0 425.9,221.0 426.4,222.1 427.0,223.1 427.5,224.2 428.0,225.2 428.5,226.3 429.0,227.3 429.5,228.4 430.0,229.5 430.5,230.6 431.0,231.6 431.5,232.7 432.0,233.8 432.5,234.9 432.9,236.0 433.4,237.0 433.9,238.1 434.4,239.2 434.8,240.3 435.3,241.3 435.8,242.4 436.3,243.5 436.8,244.6 437.2,245.6 437.7,246.7 438.2,247.8 438.7,248.8 439.2,249.9 439.7,250.9 440.3,252.0 440.8,253.0 441.3,254.1 441.8,255.1 442.4,256.1 442.9,257.2 443.4,258.2 444.0,259.2 444.5,260.2 445.1,261.2 445.6,262.3 446.2,263.3 446.7,264.3 447.3,265.3 447.9,266.3 448.4,267.3 449.0,268.3 449.5,269.3 450.1,270.3 450.7,271.3 451.2,272.3 451.8,273.3 452.4,274.3 452.9,275.3 453.5,276.3 454.1,277.3 454.7,278.3 455.2,279.3 455.8,280.3 456.3,281.3 456.9,282.3 457.5,283.3 458.0,284.3 458.6,285.4 459.2,286.4 459.7,287.4 460.3,288.4 460.8,289.4 461.4,290.4 461.9,291.4 462.4,292.4 463.0,293.4 463.5,294.4 464.1,295.4 464.6,296.4 465.1,297.5 465.7,298.5 466.2,299.5 466.7,300.5 467.2,301.5 467.8,302.6 468.3,303.6 468.8,304.6 469.3,305.6 469.8,306.6 470.3,307.7 470.8,308.7 471.4,309.7 471.9,310.8 472.4,311.8 472.9,312.8 473.4,313.9 473.9,314.9 474.3,315.9 474.8,317.0 475.3,318.0 475.8,319.0 476.3,320.1 476.8,321.1 477.3,322.1 477.7,323.2 478.2,324.2 478.7,325.3 479.2,326.3 479.6,327.4 480.1,328.4 480.6,329.5 481.0,330.5 481.5,331.5 482.0,332.6 482.4,333.6 482.9,334.7 483.3,335.8 483.8,336.8 484.3,337.9 484.7,338.9 485.2,340.0 485.6,341.0 486.0,342.1 486.5,343.1 486.9,344.2 487.4,345.3 487.8,346.3 488.2,347.4 488.7,348.4 489.1,349.5 489.5,350.6 490.0,351.6 490.4,352.7 490.8,353.8 491.2,354.8 491.7,355.9 492.1,357.0 492.5,358.0 492.9,359.1 493.3,360.2 493.8,361.2 494.2,362.3 494.6,363.4 495.0,364.5 495.4,365.5 495.8,366.6 496.2,367.7 496.6,368.8 497.0,369.8 497.4,370.9 497.8,372.0 498.2,373.1 498.6,374.2 499.0,375.2 499.4,376.3 499.8,377.4 500.1,378.5 500.5,379.6 500.9,380.7 501.3,381.7 501.7,382.8 502.1,383.9 502.4,385.0 502.8,386.1 503.2,387.2 503.6,388.3 503.9,389.3 504.3,390.4 504.7,391.5 505.0,392.6 505.4,393.7 505.8,394.8 506.1,395.9 506.5,397.0 506.9,398.1 507.2,399.2 507.6,400.3 507.9,401.4 508.3,402.5 508.6,403.5 509.0,404.6 509.4,405.7 509.7,406.8 510.1,407.9 510.4,409.0 510.7,410.1 511.1,411.2 511.4,412.3 511.8,413.4 512.1,414.5 512.5,415.6 512.8,416.7 513.1,417.8 513.5,418.9 513.8,420.0 514.1,421.1 514.5,422.2 514.8,423.3 515.1,424.5 515.5,425.6 515.8,426.7 516.1,427.8 516.4,428.9 516.8,430.0 517.1,431.1 517.4,432.2 517.7,433.3 518.1,434.4 518.4,435.5 518.7,436.6 519.0,437.7 519.3,438.8 519.6,439.9 520.0,441.1 520.3,442.2 520.6,443.3 520.9,444.4 521.2,445.5 521.5,446.6 521.8,447.7 522.1,448.8 522.4,449.9 522.7,451.1 523.0,452.2 523.4,453.3 523.7,454.4 524.0,455.5 524.3,456.6 524.6,457.7 524.9,458.8 525.2,460.0 525.4,461.1 525.7,462.2 526.0,463.3 526.3,464.4 526.6,465.5 526.9,466.6 527.2,467.8 527.5,468.9 527.8,470.0 528.1,471.1 528.4,472.2 528.7,473.3 528.9,474.5 529.2,475.6 529.5,476.7 529.8,477.8 530.1,478.9 530.4,480.0 530.6,481.2 530.9,482.3 531.2,483.4 531.5,484.5 531.8,485.6 532.0,486.7 532.3,487.9 532.6,489.0 532.9,490.1 533.1,491.2 533.4,492.3 533.7,493.5 534.0,494.6 534.2,495.7 534.5,496.8 534.8,497.9 535.1,499.0 535.3,500.2 535.6,501.3 535.9,502.4 536.1,503.5 536.4,504.6 536.7,505.8 536.9,506.9 537.2,508.0 537.4,509.1 537.7,510.3 538.0,511.4 538.2,512.5 538.5,513.6 538.7,514.7 539.0,515.9 539.3,517.0 539.5,518.1 539.8,519.2 540.0,520.4 540.3,521.5 540.5,522.6 540.8,523.7 541.1,524.8 541.3,526.0 541.6,527.1 541.8,528.2 542.1,529.3 542.3,530.5 542.6,531.6 542.8,532.7 543.1,533.8 543.3,535.0 543.5,536.1 543.8,537.2 544.0,538.3 544.3,539.5 544.5,540.6 544.8,541.7 545.0,542.8 545.3,544.0 545.5,545.1 545.7,546.2 546.0,547.3 546.2,548.5 546.5,549.6 546.7,550.7 546.9,551.9 547.2,553.0 547.4,554.1 547.6,555.2 547.9,556.4 548.1,557.5 548.4,558.6 548.6,559.7 548.8,560.9 549.1,562.0 549.3,563.1 549.5,564.3 549.8,565.4 550.0,566.5 550.2,567.6 550.4,568.8 550.7,569.9 550.9,571.0 551.1,572.2 551.4,573.3 551.6,574.4 551.8,575.5 552.0,576.7 552.3,577.8 552.5,578.9 552.7,580.1 552.9,581.2 553.2,582.3 553.4,583.4 553.6,584.6 553.8,585.7 554.1,586.8 554.3,588.0 554.5,589.1 554.7,590.2 554.9,591.4 555.2,592.5 555.4,593.6 555.6,594.8 555.8,595.9 556.0,597.0 556.2,598.1 556.5,599.3 556.7,600.4 556.9,601.5 557.1,602.7 557.3,603.8 557.5,604.9 557.8,606.1 558.0,607.2 558.2,608.3 558.4,609.5 558.6,610.6 558.8,611.7 559.0,612.9 559.2,614.0 559.5,615.1 559.7,616.3 559.9,617.4 560.1,618.5 560.3,619.7 560.5,620.8 560.7,621.9 560.9,623.1 561.1,624.2 561.3,625.3 561.6,626.5 561.8,627.6 562.0,628.7 562.2,629.9 562.4,631.0 562.6,632.1 562.8,633.3 563.0,634.4 563.2,635.5 563.4,636.7 563.6,637.8 563.8,638.9 564.0,640.1 564.2,641.2 564.4,642.3 564.6,643.5 564.8,644.6 565.0,645.7 565.2,646.9 565.4,648.0 565.6,649.1 565.8,650.3 566.0,651.4 566.2,652.5 566.4,653.7 566.6,654.8 566.8,655.9 567.0,657.1 567.2,658.2 567.4,659.3 567.6,660.5 567.8,661.6 568.0,662.7 568.2,663.9 568.4,665.0 568.6,666.2 568.8,667.3 569.0,668.4 569.2,669.6 569.4,670.7 569.6,671.8 569.8,673.0 570.0,674.1 570.2,675.2 570.4,676.4 570.6,677.5 570.8,678.6 571.0,679.8 571.2,680.9 571.4,682.1 571.6,683.2 571.8,684.3 572.0,685.5 572.2,686.6 572.4,687.7 572.6,688.9 572.7,690.0 572.9,691.1 573.1,692.3 573.3,693.4 573.5,694.5 573.7,695.7 573.9,696.8 574.1,698.0 574.3,699.1 574.5,700.2 574.7,701.4 574.9,702.5 575.1,703.6 575.3,704.8 575.4,705.9 575.6,707.0 575.8,708.2 576.0,709.3 576.2,710.5 576.4,711.6 576.6,712.7 576.8,713.9 577.0,715.0 577.2,716.1 577.4,717.3 577.6,718.4 577.8,719.5 577.9,720.7 578.1,721.8 578.3,723.0 578.5,724.1 578.7,725.2 578.9,726.4 579.1,727.5 579.3,728.6 579.5,729.8 579.7,730.9 579.9,732.0 580.0,733.2 580.2,734.3 580.4,735.5 580.6,736.6 580.8,737.7 581.0,738.9 581.2,740.0 581.4,741.1 581.6,742.3 581.8,743.4 582.0,744.5 582.2,745.7 582.3,746.8 582.5,748.0 582.7,749.1 582.9,750.2 583.1,751.4 583.3,752.5 583.5,753.6 583.7,754.8 583.9,755.9 584.1,757.0 584.3,758.2 584.5,759.3 584.6,760.4 584.8,761.6 585.0,762.7 585.2,763.9 585.4,765.0 585.6,766.1 585.8,767.3 586.0,768.4 586.2,769.5 586.4,770.7 586.6,771.8 586.8,772.9 587.0,774.1 587.2,775.2 587.3,776.4 587.5,777.5 587.7,778.6 587.9,779.8 588.1,780.9 588.3,782.0 588.5,783.2 588.7,784.3 588.9,785.4 589.1,786.6 589.3,787.7 589.5,788.8 589.7,790.0 589.9,791.1 590.1,792.2 590.3,793.4 590.5,794.5 590.7,795.7 590.9,796.8 591.1,797.9 591.2,799.1 591.4,800.2 591.6,801.3 591.8,802.5 592.0,803.6 592.2,804.7 592.4,805.9 592.6,807.0 592.8,808.1 593.0,809.3 593.2,810.4 593.4,811.5 593.6,812.7 593.8,813.8 594.0,814.9 594.2,816.1 594.4,817.2 594.6,818.3 594.8,819.5 595.0,820.6 595.2,821.7 595.4,822.9 595.6,824.0 595.8,825.1 596.0,826.3 596.2,827.4 596.4,828.5 596.6,829.7 596.8,830.8 597.0,831.9 597.3,833.1 597.5,834.2 597.7,835.3 597.9,836.5 598.1,837.6 598.3,838.7 598.5,839.9 598.7,841.0 598.9,842.1 599.1,843.3 599.3,844.4 599.5,845.5 599.7,846.7 599.9,847.8 600.1,848.9 600.3,850.1 600.5,851.2 600.7,852.3 600.9,853.5 601.1,854.6 601.3,855.7 601.6,856.9 601.8,858.0 602.0,859.1 602.2,860.3 602.4,861.4 602.6,862.5 602.8,863.7 603.0,864.8 603.2,865.9 603.4,867.1 603.6,868.2 603.8,869.3 604.0,870.4 604.2,871.6 604.5,872.7 604.7,873.8 604.9,875.0 605.1,876.1 605.3,877.2 605.5,878.4 605.7,879.5 605.9,880.6 606.1,881.8 606.3,882.9 606.5,884.0 606.8,885.2 607.0,886.3 607.2,887.4 607.4,888.6 607.6,889.7 607.8,890.8 608.0,892.0 608.2,893.1 608.4,894.2 608.6,895.4 608.9,896.5 609.1,897.6 609.3,898.7 609.5,899.9 609.7,901.0 609.9,902.1 610.1,903.3 610.3,904.4 610.5,905.5 610.8,906.7 611.0,907.8 611.2,908.9 611.4,910.1 611.6,911.2 611.8,912.3 612.0,913.5 612.2,914.6 612.4,915.7 612.7,916.9 612.9,918.0 613.1,919.1 613.3,920.3 613.5,921.4 613.7,922.5 613.9,923.7 614.1,924.8 614.3,925.9 614.6,927.0 614.8,928.2 615.0,929.3 615.2,930.4 615.4,931.6 615.6,932.7 615.8,933.8 616.0,935.0 616.3,936.1 616.5,937.2 616.7,938.4 616.9,939.5 617.1,940.6 617.3,941.8 617.5,942.9 617.7,944.0 618.0,945.2 618.2,946.3 618.4,947.4 618.6,948.6 618.8,949.7 619.0,950.8 619.2,952.0 619.4,953.1 619.6,954.2 619.9,955.4 620.1,956.5 620.3,957.6 620.5,958.8 620.7,959.9 620.9,961.0 621.1,962.2 621.3,963.3 621.6,964.4 621.8,965.6 622.0,966.7 622.2,967.8 622.4,969.0 622.6,970.1 622.8,971.2 623.0,972.4 623.2,973.5 623.5,974.6 623.7,975.8 623.9,976.9 624.1,978.0 624.3,979.2 624.5,980.3 624.7,981.4 624.9,982.6 625.1,983.7 625.4,984.8 625.6,986.0 625.8,987.1 626.0,988.2 626.2,989.4 626.4,990.5 626.6,991.6 626.8,992.8 627.0,993.9 627.3,995.0 627.5,996.2 627.7,997.3 627.9,998.4 628.1,999.6 628.3,1000.7 628.5,1001.8 628.7,1003.0 629.0,1004.1 629.2,1005.2 629.4,1006.4 629.6,1007.5 629.8,1008.6 630.0,1009.8 630.2,1010.9 630.4,1012.0 630.7,1013.2 630.9,1014.3 631.1,1015.4 631.3,1016.6 631.5,1017.7 631.7,1018.8 631.9,1020.0 632.2,1021.1 632.4,1022.2 632.6,1023.4 632.8,1024.5 633.0,1025.6 633.2,1026.8 633.5,1027.9 633.7,1029.0 633.9,1030.2 634.1,1031.3 634.3,1032.4 634.6,1033.6 634.8,1034.7 635.0,1035.8 635.2,1037.0 635.4,1038.1 635.7,1039.2 635.9,1040.4 636.1,1041.5 636.3,1042.6 636.6,1043.8 636.8,1044.9 637.0,1046.0 637.2,1047.1 637.5,1048.3 637.7,1049.4 637.9,1050.5 638.1,1051.7 638.4,1052.8 638.6,1053.9 638.8,1055.1 639.0,1056.2 639.3,1057.3 639.5,1058.4 639.7,1059.6 640.0,1060.7 640.2,1061.8 640.4,1063.0 640.7,1064.1 640.9,1065.2 641.1,1066.3 641.4,1067.5 641.6,1068.6 641.9,1069.7 642.1,1070.9 642.3,1072.0 642.6,1073.1 642.8,1074.2 643.1,1075.4 643.3,1076.5 643.5,1077.6 643.8,1078.7 644.0,1079.9 644.3,1081.0 644.5,1082.1 644.8,1083.2 645.0,1084.4 645.3,1085.5 645.5,1086.6 645.8,1087.7 646.0,1088.9 646.3,1090.0 646.5,1091.1 646.8,1092.2 647.0,1093.4 647.3,1094.5 647.5,1095.6 647.8,1096.7 648.1,1097.8 648.3,1099.0 648.6,1100.1 648.8,1101.2 649.1,1102.3 649.4,1103.4 649.6,1104.6 649.9,1105.7 650.2,1106.8 650.4,1107.9 650.7,1109.0 651.0,1110.2 651.2,1111.3 651.5,1112.4 651.8,1113.5 652.1,1114.6 652.3,1115.7 652.6,1116.9 652.9,1118.0 653.2,1119.1 653.5,1120.2 653.7,1121.3 654.0,1122.4 654.3,1123.6 654.6,1124.7 654.9,1125.8 655.2,1126.9 655.4,1128.0 655.7,1129.1 656.0,1130.2 656.3,1131.3 656.6,1132.5 656.9,1133.6 657.2,1134.7 657.5,1135.8 657.8,1136.9 658.1,1138.0 658.4,1139.1 658.7,1140.2 659.0,1141.3 659.3,1142.4 659.6,1143.5 659.9,1144.7 660.2,1145.8 660.5,1146.9 660.9,1148.0 661.2,1149.1 661.5,1150.2 661.8,1151.3 662.1,1152.4 662.4,1153.5 662.8,1154.6 663.1,1155.7 663.4,1156.8 663.7,1157.9 664.1,1159.0 664.4,1160.1 664.7,1161.2 665.0,1162.3 665.4,1163.4 665.7,1164.5 666.0,1165.6 666.4,1166.7 666.7,1167.8 667.1,1168.9 667.4,1170.0 667.7,1171.1 668.1,1172.2 668.4,1173.3 668.8,1174.4 669.1,1175.5 669.5,1176.6 669.8,1177.7 670.2,1178.8 670.6,1179.8 670.9,1180.9 671.3,1182.0 671.6,1183.1 672.0,1184.2 672.4,1185.3 672.7,1186.4 673.1,1187.5 673.5,1188.6 673.8,1189.7 674.2,1190.7 674.6,1191.8 674.9,1192.9 675.3,1194.0 675.7,1195.1 676.1,1196.2 676.5,1197.3 676.8,1198.3 677.2,1199.4 677.6,1200.5 678.0,1201.6 678.4,1202.7 678.8,1203.7 679.2,1204.8 679.6,1205.9 679.9,1207.0 680.3,1208.1 680.7,1209.1 681.1,1210.2 681.5,1211.3 681.9,1212.4 682.3,1213.5 682.7,1214.5 683.2,1215.6 683.6,1216.7 684.0,1217.8 684.4,1218.8 684.8,1219.9 685.2,1221.0 685.6,1222.0 686.0,1223.1 686.5,1224.2 686.9,1225.3 687.3,1226.3 687.7,1227.4 688.1,1228.5 688.6,1229.5 689.0,1230.6 689.4,1231.7 689.9,1232.7 690.3,1233.8 690.7,1234.9 691.2,1235.9 691.6,1237.0 692.0,1238.1 692.5,1239.1 692.9,1240.2 693.3,1241.2 693.8,1242.3 694.2,1243.4 694.7,1244.4 695.1,1245.5 695.6,1246.5 696.0,1247.6 696.5,1248.7 696.9,1249.7 697.4,1250.8 697.9,1251.8 698.3,1252.9 698.8,1253.9 699.2,1255.0 699.7,1256.1 700.2,1257.1 700.6,1258.2 701.1,1259.2 701.6,1260.3 702.0,1261.3 702.5,1262.4 703.0,1263.4 703.5,1264.5 703.9,1265.5 704.4,1266.6 704.9,1267.6 705.4,1268.6 705.8,1269.7 706.3,1270.7 706.8,1271.8 707.3,1272.8 707.8,1273.9 708.3,1274.9 708.8,1275.9 709.3,1277.0 709.8,1278.0 710.3,1279.1 710.8,1280.1 711.3,1281.1 711.8,1282.2 712.3,1283.2 712.8,1284.3 713.3,1285.3 713.8,1286.3 714.3,1287.4 714.8,1288.4 715.3,1289.4 715.8,1290.5 716.3,1291.5 716.8,1292.5 717.3,1293.6 717.9,1294.6 718.4,1295.6 718.9,1296.6 719.4,1297.7 719.9,1298.7 720.5,1299.7 721.0,1300.8 721.5,1301.8 722.1,1302.8 722.6,1303.8 723.1,1304.8 723.7,1305.9 724.2,1306.9 724.7,1307.9 725.3,1308.9 725.8,1310.0 726.3,1311.0 726.9,1312.0 727.4,1313.0 728.0,1314.0 728.5,1315.0 729.1,1316.1 729.6,1317.1 730.2,1318.1 730.7,1319.1 731.3,1320.1 731.8,1321.1 732.4,1322.1 732.9,1323.1 733.5,1324.2 734.1,1325.2 734.6,1326.2 735.2,1327.2 735.8,1328.2 736.3,1329.2 736.9,1330.2 737.5,1331.2 738.0,1332.2 738.6,1333.2 739.2,1334.2 739.7,1335.2 740.3,1336.2 740.9,1337.2 741.5,1338.2 742.1,1339.2 742.6,1340.2 743.2,1341.2 743.8,1342.2 744.4,1343.2 745.0,1344.2 745.6,1345.2 746.2,1346.1 746.8,1347.1 747.4,1348.1 748.0,1349.1 748.6,1350.1 749.2,1351.1 749.8,1352.0 750.5,1353.0 751.1,1354.0 751.7,1355.0 752.3,1355.9 752.9,1356.9 753.6,1357.9 754.2,1358.8 754.8,1359.8 755.5,1360.7 756.1,1361.7 756.8,1362.6 757.4,1363.6 758.1,1364.5 758.7,1365.5 759.4,1366.4 760.1,1367.3 760.8,1368.3 761.4,1369.2 762.1,1370.1 762.8,1371.0 763.5,1372.0 764.2,1372.9 764.9,1373.8 765.6,1374.7 766.3,1375.6 767.0,1376.5 767.7,1377.4 768.4,1378.3 769.2,1379.2 769.9,1380.1 770.6,1380.9 771.4,1381.8 772.1,1382.7 772.9,1383.5 773.6,1384.4 774.4,1385.3 775.1,1386.1 775.9,1387.0 776.7,1387.8 777.5,1388.7 778.3,1389.5 779.1,1390.3 779.9,1391.1 780.7,1392.0 781.5,1392.8 782.3,1393.6 783.1,1394.4 784.0,1395.2 784.8,1396.0 785.7,1396.8 786.5,1397.5 787.4,1398.3 788.2,1399.1 789.1,1399.9 790.0,1400.6 790.9,1401.4 791.8,1402.1 792.7,1402.9 793.6,1403.6 794.5,1404.3 795.4,1405.1 796.3,1405.8 797.3,1406.5 798.2,1407.2 799.2,1407.9 800.1,1408.6 801.1,1409.2 802.1,1409.9 803.0,1410.5 804.0,1411.2 805.0,1411.8 806.0,1412.4 807.0,1413.1 808.0,1413.7 809.0,1414.2 810.0,1414.8 811.0,1415.4 812.1,1415.9 813.1,1416.4 814.1,1417.0 815.2,1417.5 816.2,1418.0 817.3,1418.4 818.3,1418.9 819.4,1419.3 820.4,1419.7 821.5,1420.1 822.6,1420.5 823.6,1420.9 824.7,1421.2 825.8,1421.5 826.9,1421.8 828.0,1422.1 829.1,1422.4 830.2,1422.6 831.3,1422.8 832.4,1423.0 833.5,1423.2 834.6,1423.4 835.7,1423.5 836.8,1423.6 837.9,1423.7 839.0,1423.7 840.2,1423.7 841.3,1423.7 842.4,1423.7 843.5,1423.7 844.6,1423.6 845.8,1423.6 846.9,1423.5 848.0,1423.3 849.1,1423.2 850.3,1423.0 851.4,1422.9 852.5,1422.7 853.6,1422.4 854.7,1422.2 855.9,1422.0 857.0,1421.7 858.1,1421.4 859.2,1421.1 860.3,1420.8 861.4,1420.4 862.5,1420.1 863.6,1419.7 864.7,1419.4 865.8,1419.0 866.9,1418.6 868.0,1418.1 869.1,1417.7 870.1,1417.3 871.2,1416.8 872.3,1416.4 873.3,1415.9 874.4,1415.4 875.4,1414.9 876.5,1414.4 877.5,1413.9 878.5,1413.4 879.5,1412.8 880.6,1412.3 881.6,1411.7 882.6,1411.2 883.6,1410.6 884.6,1410.0 885.6,1409.4 886.5,1408.8 887.5,1408.2 888.5,1407.6 889.5,1407.0 890.4,1406.4 891.4,1405.8 892.3,1405.1 893.3,1404.5 894.2,1403.8 895.1,1403.2 896.1,1402.5 897.0,1401.8 897.9,1401.1 898.9,1400.5 899.8,1399.8 900.7,1399.1 901.6,1398.4 902.5,1397.7 903.4,1397.0 904.3,1396.2 905.2,1395.5 906.1,1394.8 907.0,1394.0 907.8,1393.3 908.7,1392.6 909.6,1391.8 910.5,1391.1 911.3,1390.3 912.2,1389.5 913.1,1388.8 913.9,1388.0 914.8,1387.2 915.7,1386.5 916.5,1385.7 917.4,1384.9 918.2,1384.1 919.1,1383.3 919.9,1382.5 920.8,1381.8 921.6,1381.0 922.4,1380.2 923.3,1379.4 924.1,1378.6 925.0,1377.8 925.8,1377.0 926.6,1376.1 927.5,1375.3 928.3,1374.5 929.1,1373.7 930.0,1372.9 930.8,1372.1 931.6,1371.3 932.4,1370.5 933.3,1369.7 934.1,1368.8 934.9,1368.0 935.7,1367.2 936.6,1366.4 937.4,1365.6 938.2,1364.8 939.1,1364.0 939.9,1363.2 940.7,1362.3 941.5,1361.5 942.4,1360.7 943.2,1359.9 944.0,1359.1 944.9,1358.3 945.7,1357.5 946.5,1356.7 947.4,1355.9 948.2,1355.1 949.0,1354.3 949.9,1353.5 950.7,1352.7 951.5,1351.9 952.4,1351.1 953.2,1350.3 954.0,1349.5 954.9,1348.8 955.7,1348.0 956.6,1347.2 957.4,1346.4 958.3,1345.6 959.1,1344.8 959.9,1344.1 960.8,1343.3 961.6,1342.5 962.5,1341.7 963.3,1340.9 964.2,1340.2 965.0,1339.4 965.9,1338.6 966.7,1337.9 967.6,1337.1 968.4,1336.3 969.3,1335.6 970.2,1334.8 971.0,1334.0 971.9,1333.3 972.7,1332.5 973.6,1331.8 974.5,1331.0 975.3,1330.3 976.2,1329.5 977.1,1328.8 977.9,1328.0 978.8,1327.3 979.7,1326.5 980.5,1325.8 981.4,1325.0 982.3,1324.3 983.2,1323.5 984.0,1322.8 984.9,1322.1 985.8,1321.3 986.7,1320.6 987.6,1319.9 988.4,1319.1 989.3,1318.4 990.2,1317.7 991.1,1317.0 992.0,1316.2 992.9,1315.5 993.8,1314.8 994.7,1314.1 995.6,1313.4 996.5,1312.6 997.4,1311.9 998.3,1311.2 999.2,1310.5 1000.1,1309.8 1001.0,1309.1 1001.9,1308.4 1002.8,1307.7 1003.7,1307.0 1004.6,1306.3 1005.5,1305.6 1006.5,1304.9 1007.4,1304.2 1008.3,1303.5 1009.2,1302.8 1010.2,1302.1 1011.1,1301.5 1012.0,1300.8 1012.9,1300.1 1013.9,1299.4 1014.8,1298.7 1015.7,1298.1 1016.7,1297.4 1017.6,1296.7 1018.6,1296.1 1019.5,1295.4 1020.4,1294.7 1021.4,1294.1 1022.3,1293.4 1023.3,1292.7 1024.2,1292.1 1025.2,1291.4 1026.1,1290.8 1027.1,1290.1 1028.0,1289.5 1029.0,1288.8 1030.0,1288.2 1030.9,1287.6 1031.9,1286.9 1032.9,1286.3 1033.8,1285.7 1034.8,1285.0 1035.8,1284.4 1036.7,1283.8 1037.7,1283.2 1038.7,1282.5 1039.7,1281.9 1040.6,1281.3 1041.6,1280.7 1042.6,1280.1 1043.6,1279.5 1044.6,1278.9 1045.6,1278.3 1046.5,1277.7 1047.5,1277.1 1048.5,1276.5 1049.5,1275.9 1050.5,1275.3 1051.5,1274.7 1052.5,1274.1 1053.5,1273.6 1054.5,1273.0 1055.5,1272.4 1056.5,1271.8 1057.5,1271.3 1058.5,1270.7 1059.5,1270.2 1060.5,1269.6 1061.5,1269.0 1062.6,1268.5 1063.6,1267.9 1064.6,1267.4 1065.6,1266.9 1066.6,1266.3 1067.6,1265.8 1068.7,1265.2 1069.7,1264.7 1070.7,1264.2 1071.7,1263.7 1072.8,1263.2 1073.8,1262.6 1074.8,1262.1 1075.8,1261.6 1076.9,1261.1 1077.9,1260.6 1078.9,1260.1 1080.0,1259.6 1081.0,1259.1 1082.1,1258.6 1083.1,1258.1 1084.1,1257.7 1085.2,1257.2 1086.2,1256.7 1087.3,1256.2 1088.3,1255.8 1089.4,1255.3 1090.4,1254.8 1091.5,1254.4 1092.5,1253.9 1093.6,1253.5 1094.6,1253.0 1095.7,1252.6 1096.8,1252.1 1097.8,1251.7 1098.9,1251.2 1099.9,1250.8 1101.0,1250.4 1102.1,1249.9 1103.1,1249.5 1104.2,1249.1 1105.3,1248.6 1106.3,1248.2 1107.4,1247.8 1108.5,1247.4 1109.5,1247.0 1110.6,1246.6 1111.7,1246.2 1112.8,1245.7 1113.8,1245.3 1114.9,1244.9 1116.0,1244.5 1117.1,1244.1 1118.1,1243.8 1119.2,1243.4 1120.3,1243.0 1121.4,1242.6 1122.5,1242.2 1123.6,1241.8 1124.6,1241.4 1125.7,1241.1 1126.8,1240.7 1127.9,1240.3 1129.0,1239.9 1130.1,1239.6 1131.2,1239.2 1132.3,1238.8 1133.3,1238.5 1134.4,1238.1 1135.5,1237.7 1136.6,1237.4 1137.7,1237.0 1138.8,1236.6 1139.9,1236.3 1141.0,1235.9 1142.1,1235.6 1143.2,1235.2 1144.3,1234.9 1145.4,1234.5 1146.5,1234.2 1147.6,1233.8 1148.7,1233.5 1149.8,1233.2 1150.9,1232.8 1152.0,1232.5 1153.1,1232.1 1154.2,1231.8 1155.3,1231.5 1156.4,1231.1 1157.5,1230.8 1158.6,1230.5 1159.7,1230.1 1160.8,1229.8 1161.9,1229.5 1163.0,1229.1 1164.1,1228.8 1165.3,1228.5 1166.4,1228.2 1167.5,1227.8 1168.6,1227.5 1169.7,1227.2 1170.8,1226.9 1171.9,1226.5 1173.0,1226.2 1174.1,1225.9 1175.2,1225.6 1176.3,1225.3 1177.5,1224.9 1178.6,1224.6 1179.7,1224.3 1180.8,1224.0 1181.9,1223.7 1183.0,1223.3 1184.1,1223.0 1185.2,1222.7 1186.3,1222.4 1187.4,1222.1 1188.6,1221.7 1189.7,1221.4 1190.8,1221.1 1191.9,1220.8 1193.0,1220.5 1194.1,1220.1 1195.2,1219.8 1196.3,1219.5 1197.4,1219.2 1198.5,1218.9 1199.6,1218.5 1200.8,1218.2 1201.9,1217.9 1203.0,1217.6 1204.1,1217.2 1205.2,1216.9 1206.3,1216.6 1207.4,1216.2 1208.5,1215.9 1209.6,1215.6 1210.7,1215.3 1211.8,1214.9 1212.9,1214.6 1214.0,1214.3 1215.1,1213.9 1216.2,1213.6 1217.3,1213.2 1218.4,1212.9 1219.5,1212.6 1220.6,1212.2 1221.7,1211.9 1222.8,1211.5 1223.9,1211.2 1225.0,1210.8 1226.1,1210.5 1227.2,1210.1 1228.3,1209.8 1229.4,1209.4 1230.5,1209.1 1231.6,1208.7 1232.7,1208.4 1233.8,1208.0 1234.9,1207.6 1236.0,1207.3 1237.1,1206.9 1238.2,1206.5 1239.2,1206.2 1240.3,1205.8 1241.4,1205.4 1242.5,1205.0 1243.6,1204.6 1244.7,1204.3 1245.8,1203.9 1246.8,1203.5 1247.9,1203.1 1249.0,1202.7 1250.1,1202.3 1251.2,1201.9 1252.2,1201.5 1253.3,1201.1 1254.4,1200.7 1255.5,1200.3 1256.5,1199.9 1257.6,1199.5 1258.7,1199.1 1259.8,1198.7 1260.8,1198.3 1261.9,1197.9 1263.0,1197.5 1264.1,1197.1 1265.1,1196.7 1266.2,1196.3 1267.3,1195.8 1268.3,1195.4 1269.4,1195.0 1270.5,1194.6 1271.6,1194.2 1272.6,1193.8 1273.7,1193.4 1274.8,1193.0 1275.8,1192.5 1276.9,1192.1 1278.0,1191.7 1279.1,1191.3 1280.1,1190.9 1281.2,1190.5 1282.3,1190.0 1283.3,1189.6 1284.4,1189.2 1285.5,1188.8 1286.5,1188.4 1287.6,1188.0 1288.7,1187.5 1289.8,1187.1 1290.8,1186.7 1291.9,1186.3 1293.0,1185.9 1294.0,1185.5 1295.1,1185.1 1296.2,1184.7 1297.3,1184.3 1298.3,1183.9 1299.4,1183.4 1300.5,1183.0 1301.6,1182.6 1302.6,1182.2 1303.7,1181.8 1304.8,1181.4 1305.9,1181.0 1307.0,1180.6 1308.0,1180.2 1309.1,1179.8 1310.2,1179.5 1311.3,1179.1 1312.4,1178.7 1313.4,1178.3 1314.5,1177.9 1315.6,1177.5 1316.7,1177.1 1317.8,1176.8 1318.9,1176.4 1320.0,1176.0 1321.0,1175.6 1322.1,1175.3 1323.2,1174.9 1324.3,1174.5 1325.4,1174.2 1326.5,1173.8 1327.6,1173.4 1328.7,1173.1 1329.8,1172.7 1330.9,1172.4 1332.0,1172.0 1333.1,1171.7 1334.2,1171.3 1335.3,1171.0 1336.4,1170.6 1337.5,1170.3 1338.6,1170.0 1339.7,1169.6 1340.8,1169.3 1341.9,1169.0 1343.0,1168.7 1344.1,1168.3 1345.3,1168.0 1346.4,1167.7 1347.5,1167.4 1348.6,1167.1 1349.7,1166.8 1350.8,1166.4 1351.9,1166.1 1353.0,1165.8 1354.2,1165.5 1355.3,1165.2 1356.4,1165.0 1357.5,1164.7 1358.6,1164.4 1359.8,1164.1 1360.9,1163.8 1362.0,1163.5 1363.1,1163.2 1364.2,1163.0 1365.4,1162.7 1366.5,1162.4 1367.6,1162.1 1368.7,1161.9 1369.9,1161.6 1371.0,1161.4 1372.1,1161.1 1373.3,1160.8 1374.4,1160.6 1375.5,1160.3 1376.6,1160.1 1377.8,1159.9 1378.9,1159.6 1380.0,1159.4 1381.2,1159.1 1382.3,1158.9 1383.4,1158.7 1384.6,1158.4 1385.7,1158.2 1386.8,1158.0 1388.0,1157.8 1389.1,1157.6 1390.2,1157.3 1391.4,1157.1 1392.5,1156.9 1393.7,1156.7 1394.8,1156.5 1395.9,1156.3 1397.1,1156.1 1398.2,1155.9 1399.4,1155.7 1400.5,1155.5 1401.6,1155.4 1402.8,1155.2 1403.9,1155.0 1405.1,1154.8 1406.2,1154.6 1407.3,1154.5 1408.5,1154.3 1409.6,1154.1 1410.8,1154.0 1411.9,1153.8 1413.1,1153.7 1414.2,1153.5 1415.3,1153.4 1416.5,1153.2 1417.6,1153.1 1418.8,1152.9 1419.9,1152.8 1421.1,1152.7 1422.2,1152.5 1423.4,1152.4 1424.5,1152.3 1425.7,1152.1 1426.8,1152.0 1428.0,1151.9 1429.1,1151.8 1430.3,1151.7 1431.4,1151.6 1432.5,1151.5 1433.7,1151.4 1434.8,1151.3 1436.0,1151.2 1437.1,1151.1 1438.3,1151.0 1439.4,1150.9 1440.6,1150.8 1441.7,1150.7 1442.9,1150.7 1444.0,1150.6 1445.2,1150.5 1446.3,1150.4 1447.5,1150.4 1448.6,1150.3 1449.8,1150.3 1450.9,1150.2 1452.1,1150.1 1453.2,1150.1 1454.4,1150.1 1455.5,1150.0 1456.7,1150.0 1457.8,1149.9 1459.0,1149.9 1460.1,1149.9 1461.3,1149.8 1462.4,1149.8 1463.6,1149.8 1464.7,1149.8 1465.9,1149.8 1467.0,1149.8 1468.2,1149.8 1469.3,1149.7 1470.5,1149.7 1471.6,1149.8 1472.8,1149.8 1473.9,1149.8 1475.0,1149.8 1476.2,1149.8 1477.3,1149.8 1478.5,1149.8 1479.6,1149.9 1480.8,1149.9 1481.9,1149.9 1483.1,1150.0 1484.2,1150.0 1485.4,1150.0 1486.5,1150.1 1487.7,1150.1 1488.8,1150.2 1489.9,1150.3 1491.1,1150.3 1492.2,1150.4 1493.4,1150.4 1494.5,1150.5 1495.7,1150.6 1496.8,1150.7 1497.9,1150.7 1499.1,1150.8 1500.2,1150.9 1501.4,1151.0 1502.5,1151.1 1503.6,1151.2 1504.8,1151.3 1505.9,1151.4 1507.1,1151.5 1508.2,1151.6 1509.3,1151.7 1510.5,1151.9 1511.6,1152.0 1512.7,1152.1 1513.9,1152.2 1515.0,1152.4 1516.1,1152.5 1517.3,1152.6 1518.4,1152.8 1519.6,1152.9 1520.7,1153.1 1521.8,1153.2 1523.0,1153.4 1524.1,1153.5 1525.2,1153.7 1526.4,1153.8 1527.5,1154.0 1528.6,1154.2 1529.7,1154.3 1530.9,1154.5 1532.0,1154.7 1533.1,1154.9 1534.3,1155.0 1535.4,1155.2 1536.5,1155.4 1537.7,1155.6 1538.8,1155.8 1539.9,1156.0 1541.0,1156.2 1542.2,1156.4 1543.3,1156.6 1544.4,1156.8 1545.6,1157.0 1546.7,1157.2 1547.8,1157.4 1548.9,1157.6 1550.1,1157.8 1551.2,1158.0 1552.3,1158.2 1553.4,1158.5 1554.6,1158.7 1555.7,1158.9 1556.8,1159.1 1558.0,1159.4 1559.1,1159.6 1560.2,1159.8 1561.3,1160.1 1562.5,1160.3 1563.6,1160.5 1564.7,1160.8 1565.8,1161.0 1566.9,1161.3 1568.1,1161.5 1569.2,1161.8 1570.3,1162.0 1571.4,1162.3 1572.6,1162.5 1573.7,1162.8 1574.8,1163.0 1575.9,1163.3 1577.0,1163.5 1578.2,1163.8 1579.3,1164.0 1580.4,1164.3 1581.5,1164.6 1582.7,1164.8 1583.8,1165.1 1584.9,1165.4 1586.0,1165.6 1587.1,1165.9 1588.3,1166.2 1589.4,1166.5 1590.5,1166.7 1591.6,1167.0 1592.7,1167.3 1593.9,1167.6 1595.0,1167.8 1596.1,1168.1 1597.2,1168.4 1598.3,1168.7 1599.5,1169.0 1600.6,1169.3 1601.7,1169.5 1602.8,1169.8 1603.9,1170.1 1605.1,1170.4 1606.2,1170.7 1607.3,1171.0 1608.4,1171.3 1609.5,1171.6 1610.6,1171.8 1611.8,1172.1 1612.9,1172.4 1614.0,1172.7 1615.1,1173.0 1616.2,1173.3 1617.4,1173.6 1618.5,1173.9 1619.6,1174.2 1620.7,1174.5 1621.8,1174.8 1623.0,1175.1 1624.1,1175.4 1625.2,1175.7 1626.3,1176.0 1627.4,1176.3 1628.5,1176.6 1629.7,1176.9 1630.8,1177.2 1631.9,1177.5 1633.0,1177.8 1634.1,1178.1 1635.3,1178.4 1636.4,1178.7 1637.5,1179.0 1638.6,1179.3 1639.7,1179.6 1640.8,1179.9 1642.0,1180.2 1643.1,1180.5 1644.2,1180.8 1645.3,1181.1 1646.4,1181.4 1647.6,1181.7 1648.7,1181.9 1649.8,1182.2 1650.9,1182.5 1652.0,1182.8 1653.1,1183.1 1654.3,1183.4 1655.4,1183.7 1656.5,1184.0 1657.6,1184.3 1658.7,1184.6 1659.9,1184.9 1661.0,1185.2 1662.1,1185.5 1663.2,1185.8 1664.3,1186.1 1665.5,1186.4 1666.6,1186.6 1667.7,1186.9 1668.8,1187.2 1669.9,1187.5 1671.1,1187.8 1672.2,1188.1 1673.3,1188.4 1674.4,1188.6 1675.5,1188.9 1676.7,1189.2 1677.8,1189.5 1678.9,1189.8 1680.0,1190.0 1681.1,1190.3 1682.3,1190.6 1683.4,1190.9 1684.5,1191.1 1685.6,1191.4 1686.8,1191.7 1687.9,1192.0 1689.0,1192.2 1690.1,1192.5 1691.2,1192.8 1692.4,1193.0 1693.5,1193.3 1694.6,1193.6 1695.7,1193.8 1696.9,1194.1 1698.0,1194.4 1699.1,1194.6 1700.2,1194.9 1701.4,1195.2 1702.5,1195.4 1703.6,1195.7 1704.7,1195.9 1705.9,1196.2 1707.0,1196.4 1708.1,1196.7 1709.2,1197.0 1710.3,1197.2 1711.5,1197.5 1712.6,1197.7 1713.7,1198.0 1714.9,1198.2 1716.0,1198.5 1717.1,1198.7 1718.2,1199.0 1719.4,1199.2 1720.5,1199.4 1721.6,1199.7 1722.7,1199.9 1723.9,1200.2 1725.0,1200.4 1726.1,1200.7 1727.2,1200.9 1728.4,1201.1 1729.5,1201.4 1730.6,1201.6 1731.7,1201.8 1732.9,1202.1 1734.0,1202.3 1735.1,1202.6 1736.3,1202.8 1737.4,1203.0 1738.5,1203.3 1739.6,1203.5 1740.8,1203.7 1741.9,1203.9 1743.0,1204.2 1744.2,1204.4 1745.3,1204.6 1746.4,1204.8 1747.5,1205.1 1748.7,1205.3 1749.8,1205.5 1750.9,1205.7 1752.1,1206.0 1753.2,1206.2 1754.3,1206.4 1755.4,1206.6 1756.6,1206.8 1757.7,1207.0 1758.8,1207.3 1760.0,1207.5 1761.1,1207.7 1762.2,1207.9 1763.4,1208.1 1764.5,1208.3 1765.6,1208.5 1766.8,1208.8 1767.9,1209.0 1769.0,1209.2 1770.1,1209.4 1771.3,1209.6 1772.4,1209.8 1773.5,1210.0 1774.7,1210.2 1775.8,1210.4 1776.9,1210.6 1778.1,1210.8 1779.2,1211.0 1780.3,1211.2 1781.5,1211.4 1782.6,1211.6 1783.7,1211.8 1784.9,1212.0 1786.0,1212.2 1787.1,1212.4 1788.3,1212.6 1789.4,1212.8 1790.5,1213.0 1791.7,1213.2 1792.8,1213.3 1793.9,1213.5 1795.1,1213.7 1796.2,1213.9 1797.3,1214.1 1798.5,1214.3 1799.6,1214.5 1800.7,1214.7 1801.9,1214.8 1803.0,1215.0 1804.1,1215.2 1805.3,1215.4 1806.4,1215.6 1807.6,1215.7 1808.7,1215.9 1809.8,1216.1 1811.0,1216.3 1812.1,1216.5 1813.2,1216.6 1814.4,1216.8 1815.5,1217.0 1816.6,1217.2 1817.8,1217.3 1818.9,1217.5 1820.1,1217.7 1821.2,1217.8 1822.3,1218.0 1823.5,1218.2 1824.6,1218.4 1825.7,1218.5 1826.9,1218.7 1828.0,1218.9 1829.2,1219.0 1830.3,1219.2 1831.4,1219.3 1832.6,1219.5 1833.7,1219.7 1834.8,1219.8 1836.0,1220.0 1837.1,1220.1 1838.3,1220.3 1839.4,1220.5 1840.5,1220.6 1841.7,1220.8 1842.8,1220.9 1844.0,1221.1 1845.1,1221.2 1846.2,1221.4 1847.4,1221.5 1848.5,1221.7 1849.7,1221.8 1850.8,1222.0 1851.9,1222.1 1853.1,1222.3 1854.2,1222.4 1855.4,1222.6 1856.5,1222.7 1857.6,1222.9 1858.8,1223.0 1859.9,1223.2 1861.1,1223.3 1862.2,1223.5 1863.3,1223.6 1864.5,1223.7 1865.6,1223.9 1866.8,1224.0 1867.9,1224.2 1869.1,1224.3 1870.2,1224.4 1871.3,1224.6 1872.5,1224.7 1873.6,1224.8 1874.8,1225.0 1875.9,1225.1 1877.0,1225.2 1878.2,1225.4 1879.3,1225.5 1880.5,1225.6 1881.6,1225.8 1882.8,1225.9 1883.9,1226.0 1885.1,1226.2 1886.2,1226.3 1887.3,1226.4 1888.5,1226.5 1889.6,1226.7 1890.8,1226.8 1891.9,1226.9 1893.1,1227.0 1894.2,1227.1 1895.3,1227.3 1896.5,1227.4 1897.6,1227.5 1898.8,1227.6 1899.9,1227.7 1901.1,1227.9 1902.2,1228.0 1903.4,1228.1 1904.5,1228.2 1905.7,1228.3 1906.8,1228.4 1907.9,1228.6 1909.1,1228.7 1910.2,1228.8 1911.4,1228.9 1912.5,1229.0 1913.7,1229.1 1914.8,1229.2 1916.0,1229.3 1917.1,1229.4 1918.3,1229.5 1919.4,1229.7 1920.5,1229.8 1921.7,1229.9 1922.8,1230.0 1924.0,1230.1 1925.1,1230.2 1926.3,1230.3 1927.4,1230.4 1928.6,1230.5 1929.7,1230.6 1930.9,1230.7 1932.0,1230.8 1933.2,1230.9 1934.3,1231.0 1935.5,1231.1 1936.6,1231.2 1937.8,1231.3 1938.9,1231.4 1940.1,1231.5 1941.2,1231.6 1942.3,1231.7 1943.5,1231.8 1944.6,1231.8 1945.8,1231.9 1946.9,1232.0 1948.1,1232.1 1949.2,1232.2 1950.4,1232.3 1951.5,1232.4 1952.7,1232.5 1953.8,1232.6 1955.0,1232.7 1956.1,1232.7 1957.3,1232.8 1958.4,1232.9 1959.6,1233.0 1960.7,1233.1 1961.9,1233.2 1963.0,1233.2 1964.2,1233.3 1965.3,1233.4 1966.5,1233.5 1967.6,1233.6 1968.8,1233.6 1969.9,1233.7 1971.1,1233.8 1972.2,1233.9 1973.4,1234.0 1974.5,1234.0 1975.7,1234.1 1976.8,1234.2 1978.0,1234.3 1979.1,1234.3 1980.3,1234.4 1981.4,1234.5 1982.6,1234.6 1983.7,1234.6 1984.9,1234.7 1986.0,1234.8 1987.2,1234.8 1988.3,1234.9 1989.5,1235.0 1990.6,1235.1 1991.8,1235.1 1992.9,1235.2 1994.1,1235.3 1995.2,1235.3 1996.4,1235.4 1997.5,1235.5 1998.7,1235.5 1999.8,1235.6 2001.0,1235.7 2002.1,1235.7 2003.3,1235.8 2004.4,1235.8 2005.6,1235.9 2006.7,1236.0 2007.9,1236.0 2009.0,1236.1 2010.2,1236.1 2011.3,1236.2 2012.5,1236.3 2013.7,1236.3 2014.8,1236.4 2016.0,1236.4 2017.1,1236.5 2018.3,1236.5 2019.4,1236.6 2020.6,1236.7 2021.7,1236.7 2022.9,1236.8 2024.0,1236.8 2025.2,1236.9 2026.3,1236.9 2027.5,1237.0 2028.6,1237.0 2029.8,1237.1 2030.9,1237.1 2032.1,1237.2 2033.2,1237.2 2034.4,1237.3 2035.5,1237.3 2036.7,1237.4 2037.8,1237.4 2039.0,1237.5 2040.1,1237.5 2041.3,1237.6 2042.5,1237.6 2043.6,1237.6 2044.8,1237.7 2045.9,1237.7 2047.1,1237.8 2048.2,1237.8 2049.4,1237.9 2050.5,1237.9 2051.7,1237.9 2052.8,1238.0 2054.0,1238.0 2055.1,1238.1 2056.3,1238.1 2057.4,1238.1 2058.6,1238.2 2059.7,1238.2 2060.9,1238.3 2062.1,1238.3 2063.2,1238.3 2064.4,1238.4 2065.5,1238.4 2066.7,1238.4 2067.8,1238.5 2069.0,1238.5 2070.1,1238.6 2071.3,1238.6 2072.4,1238.6 2073.6,1238.6 2074.7,1238.7 2075.9,1238.7 2077.0,1238.7 2078.2,1238.8 2079.3,1238.8 2080.5,1238.8 2081.7,1238.9 2082.8,1238.9 2084.0,1238.9 2085.1,1239.0 2086.3,1239.0 2087.4,1239.0 2088.6,1239.0 2089.7,1239.1 2090.9,1239.1 2092.0,1239.1 2093.2,1239.1 2094.3,1239.2 2095.5,1239.2 2096.6,1239.2 2097.8,1239.2 2098.9,1239.3 2100.1,1239.3 2101.3,1239.3 2102.4,1239.3 2103.6,1239.4 2104.7,1239.4 2105.9,1239.4 2107.0,1239.4 2108.2,1239.4 2109.3,1239.5 2110.5,1239.5 2111.6,1239.5 2112.8,1239.5 2113.9,1239.5 2115.1,1239.6 2116.2,1239.6 2117.4,1239.6 2118.5,1239.6 2119.7,1239.6 2120.9,1239.6 2122.0,1239.7 2123.2,1239.7 2124.3,1239.7 2125.5,1239.7 2126.6,1239.7 2127.8,1239.7 2128.9,1239.7 2130.1,1239.8 2131.2,1239.8 2132.4,1239.8 2133.5,1239.8 2134.7,1239.8 2135.8,1239.8 2137.0,1239.8 2138.1,1239.8 2139.3,1239.9 2140.5,1239.9 2141.6,1239.9 2142.8,1239.9 2143.9,1239.9 2145.1,1239.9 2146.2,1239.9 2147.4,1239.9 2148.5,1239.9 2149.7,1239.9 2150.8,1239.9 2152.0,1239.9 2153.1,1240.0 2154.3,1240.0 2155.4,1240.0 2156.6,1240.0 2157.7,1240.0 2158.9,1240.0 2160.0,1240.0 2161.2,1240.0 2162.4,1240.0 2163.5,1240.0 2164.7,1240.0 2165.8,1240.0 2167.0,1240.0 2168.1,1240.0 2169.3,1240.0 2170.4,1240.0 2171.6,1240.0 2172.7,1240.0 2173.9,1240.0 2175.0,1240.0 2176.2,1240.0 2177.3,1240.0 2178.5,1240.0 2179.6,1240.0 2180.8,1240.0 2181.9,1240.0 2183.1,1240.0 2184.2,1240.0 2185.4,1240.0 2186.5,1240.0 2187.7,1240.0 2188.8,1240.0 2190.0,1240.0 2191.1,1240.0 2192.3,1240.0 2193.4,1240.0 2194.6,1240.0 2195.7,1240.0 2196.9,1240.0 2198.0,1240.0 2199.2,1240.0 2200.4,1240.0 2201.5,1240.0 2202.7,1240.0 2203.8,1240.0 2205.0,1239.9 2206.1,1239.9 2207.3,1239.9 2208.4,1239.9 2209.6,1239.9 2210.7,1239.9 2211.9,1239.9 2213.0,1239.9 2214.2,1239.9 2215.3,1239.9 2216.5,1239.9 2217.6,1239.9 2218.8,1239.9 2219.9,1239.8 2221.1,1239.8 2222.2,1239.8 2223.4,1239.8 2224.5,1239.8 2225.7,1239.8 2226.8,1239.8 2228.0,1239.8 2229.1,1239.8 2230.3,1239.8 2231.4,1239.7 2232.5,1239.7 2233.7,1239.7 2234.8,1239.7 2236.0,1239.7" fill="none" stroke="#f00" stroke-width="6" stroke-linejoin="round"/>
<rect x="363.8" y="1220.3" width="6.5" height="20.2" fill="#f00" stroke="#000" stroke-width="2.6"/>
<rect x="376.3" y="1094.5" width="16.3" height="146.0" fill="#f00" stroke="#000" stroke-width="2.6"/>
<rect x="400.9" y="1173.7" width="16.4" height="66.8" fill="#f00" stroke="#000" stroke-width="2.6"/>
<rect x="439.1" y="1228.3" width="16.0" height="12.2" fill="#f00" stroke="#000" stroke-width="2.6"/>
<rect x="510.0" y="1056.5" width="16.4" height="184.0" fill="#f00" stroke="#000" stroke-width="2.6"/>
<rect x="643.6" y="1240.5" width="16.2" height="9.9" fill="#f00" stroke="#000" stroke-width="2.6"/>
<rect x="834.6" y="1240.5" width="15.6" height="49.9" fill="#f00" stroke="#000" stroke-width="2.6"/>
<rect x="1465.3" y="1198.7" width="16.2" height="41.8" fill="#f00" stroke="#000" stroke-width="2.6"/>
<g stroke="#fff" stroke-width="1.0">
<text x="238.2" y="66.3" font-family="Liberation Sans, Arial, sans-serif" font-size="70" letter-spacing="1.50">30</text>
<text x="238.0" y="465.7" font-family="Liberation Sans, Arial, sans-serif" font-size="70" letter-spacing="1.00">20</text>
<text x="279.3" y="1259.0" font-family="Liberation Sans, Arial, sans-serif" font-size="70">0</text>
<text transform="matrix(0.8348 0 0 0.6421 234.71 863.90)" x="0" y="0" font-family="NanumGothic, Liberation Sans, sans-serif" font-size="100" stroke-width="1.35">1</text>
<text x="279.2" y="863.4" font-family="Liberation Sans, Arial, sans-serif" font-size="70">0</text>
<text x="339.2" y="1540.0" font-family="Liberation Sans, Arial, sans-serif" font-size="70" letter-spacing="1.45">200</text>
<text x="705.2" y="1540.0" font-family="Liberation Sans, Arial, sans-serif" font-size="70" letter-spacing="1.50">250</text>
<text x="1076.0" y="1540.0" font-family="Liberation Sans, Arial, sans-serif" font-size="70" letter-spacing="0.25">300</text>
<text x="1442.3" y="1540.0" font-family="Liberation Sans, Arial, sans-serif" font-size="70" letter-spacing="0.05">350</text>
<text x="1809.2" y="1540.0" font-family="Liberation Sans, Arial, sans-serif" font-size="70" letter-spacing="0.75">400</text>
<text x="2175.3" y="1540.0" font-family="Liberation Sans, Arial, sans-serif" font-size="70" letter-spacing="0.80">450</text>
<text x="912.9" y="1682.2" font-family="Liberation Sans, Arial, sans-serif" font-size="96" letter-spacing="-0.59">wavelength</text>
<text x="1421.6" y="1682.2" font-family="Liberation Sans, Arial, sans-serif" font-size="96" stroke="#fff" stroke-width="4.3">(</text>
<text x="1452.3" y="1682.2" font-family="Liberation Sans, Arial, sans-serif" font-size="96" letter-spacing="1.20">nm</text>
<text x="1591.0" y="1682.2" font-family="Liberation Sans, Arial, sans-serif" font-size="96" stroke="#fff" stroke-width="4.3">)</text>
<rect x="948" y="329.6" width="139" height="7.4" fill="#000"/>
<rect x="948" y="425.3" width="139" height="7.4" fill="#f00"/>
<rect x="954.2" y="584.2" width="126.9" height="46.2" fill="#f00" stroke="#1a0000" stroke-width="2.6"/>
<text x="1103.9" y="353.7" font-family="Liberation Sans, Arial, sans-serif" font-size="71" letter-spacing="0.63">measured</text>
<text x="1444.5" y="353.7" font-family="Liberation Sans, Arial, sans-serif" font-size="71" letter-spacing="-1.30">ECD</text>
<text transform="matrix(0.6544 0 0 0.6879 1102.18 449.00)" x="0" y="0" font-family="Liberation Serif, Times New Roman, serif" font-size="100" stroke-width="2.38">Δ</text>
<text transform="matrix(0.6600 0 0 0.6313 1144.86 448.87)" x="0" y="0" font-family="Liberation Serif, Times New Roman, serif" font-size="100" stroke-width="1.55">ε</text>
<text x="1189.4" y="449.0" font-family="Liberation Sans, Arial, sans-serif" font-size="71"><tspan stroke="#fff" stroke-width="3.2">(</tspan></text>
<text x="1212.3" y="449.0" font-family="Liberation Sans, Arial, sans-serif" font-size="71" letter-spacing="2.12">B3LYP/TZVP,</text>
<text x="1165.3" y="538.4" font-family="Liberation Sans, Arial, sans-serif" font-size="71" letter-spacing="0.27">average</text>
<text x="1445.0" y="538.4" font-family="Liberation Sans, Arial, sans-serif" font-size="71" letter-spacing="1.20">of</text>
<text x="1527.1" y="538.4" font-family="Liberation Sans, Arial, sans-serif" font-size="71">8</text>
<text x="1586.0" y="538.4" font-family="Liberation Sans, Arial, sans-serif" font-size="71" letter-spacing="0.88">conformers<tspan stroke="#fff" stroke-width="3.2">)</tspan></text>
<text x="1992.5" y="538.4" font-family="Liberation Sans, Arial, sans-serif" font-size="71">/</text>
<text x="2033.6" y="538.4" font-family="Liberation Sans, Arial, sans-serif" font-size="71">2</text>
<text x="1103.0" y="626.4" font-family="Liberation Sans, Arial, sans-serif" font-size="71">R</text>
<text x="1175.8" y="626.4" font-family="Liberation Sans, Arial, sans-serif" font-size="71"><tspan stroke="#fff" stroke-width="3.2">(</tspan></text>
<text x="1198.2" y="626.4" font-family="Liberation Sans, Arial, sans-serif" font-size="71" letter-spacing="1.26">B3LYP/TZVP<tspan stroke="#fff" stroke-width="3.2">)</tspan></text>
<text x="1672.2" y="626.4" font-family="Liberation Sans, Arial, sans-serif" font-size="71">/</text>
<text x="1711.6" y="626.4" font-family="Liberation Sans, Arial, sans-serif" font-size="71">2</text>
<g transform="translate(117,1373) rotate(-90)">
<text x="111.1" y="0.0" font-family="Liberation Sans, Arial, sans-serif" font-size="97"><tspan stroke="#fff" stroke-width="4.4">(</tspan></text>
<text x="143.9" y="0.0" font-family="Liberation Sans, Arial, sans-serif" font-size="97">M</text>
<text x="222.7" y="-46.0" font-family="Liberation Sans, Arial, sans-serif" font-size="65">-</text>
<text x="278.8" y="0.0" font-family="Liberation Sans, Arial, sans-serif" font-size="97" letter-spacing="0.20">cm</text>
<text x="405.5" y="-46.0" font-family="Liberation Sans, Arial, sans-serif" font-size="65">-</text>
<text x="463.6" y="0.0" font-family="Liberation Sans, Arial, sans-serif" font-size="97"><tspan stroke="#fff" stroke-width="4.4">)</tspan></text>
<text x="522.2" y="0.0" font-family="Liberation Sans, Arial, sans-serif" font-size="97" letter-spacing="-1.60">and</text>
<text x="706.2" y="0.0" font-family="Liberation Sans, Arial, sans-serif" font-size="97">R</text>
<text x="803.9" y="0.0" font-family="Liberation Sans, Arial, sans-serif" font-size="97"><tspan stroke="#fff" stroke-width="4.4">(</tspan></text>
<text x="891.2" y="0.0" font-family="Liberation Sans, Arial, sans-serif" font-size="97">0</text>
<text x="941.6" y="-46.0" font-family="Liberation Sans, Arial, sans-serif" font-size="65">-</text>
<text x="962.1" y="-46.0" font-family="Liberation Sans, Arial, sans-serif" font-size="65" letter-spacing="-1.20">39</text>
<text x="1059.0" y="0.0" font-family="Liberation Sans, Arial, sans-serif" font-size="97" letter-spacing="-1.57">cgs<tspan stroke="#fff" stroke-width="4.4">)</tspan></text>
<text transform="matrix(0.8877 0 0 0.8242 -3.55 0.00)" x="0" y="0" font-family="Liberation Serif, Times New Roman, serif" font-size="100" stroke-width="2.10">Δ</text>
<text transform="matrix(0.9286 0 0 0.8979 49.89 0.00)" x="0" y="0" font-family="Liberation Serif, Times New Roman, serif" font-size="100" stroke-width="1.09">ε</text>
<text transform="matrix(1.1174 0 0 0.9171 830.26 0.00)" x="0" y="0" font-family="NanumGothic, Liberation Sans, sans-serif" font-size="100" stroke-width="0.98">1</text>
<text transform="matrix(0.6783 0 0 0.6013 240.60 -46.00)" x="0" y="0" font-family="NanumGothic, Liberation Sans, sans-serif" font-size="100" stroke-width="1.56">1</text>
<text transform="matrix(0.7826 0 0 0.6013 422.84 -46.00)" x="0" y="0" font-family="NanumGothic, Liberation Sans, sans-serif" font-size="100" stroke-width="1.45">1</text>
</g>
</g>
</svg>
</body></html>
